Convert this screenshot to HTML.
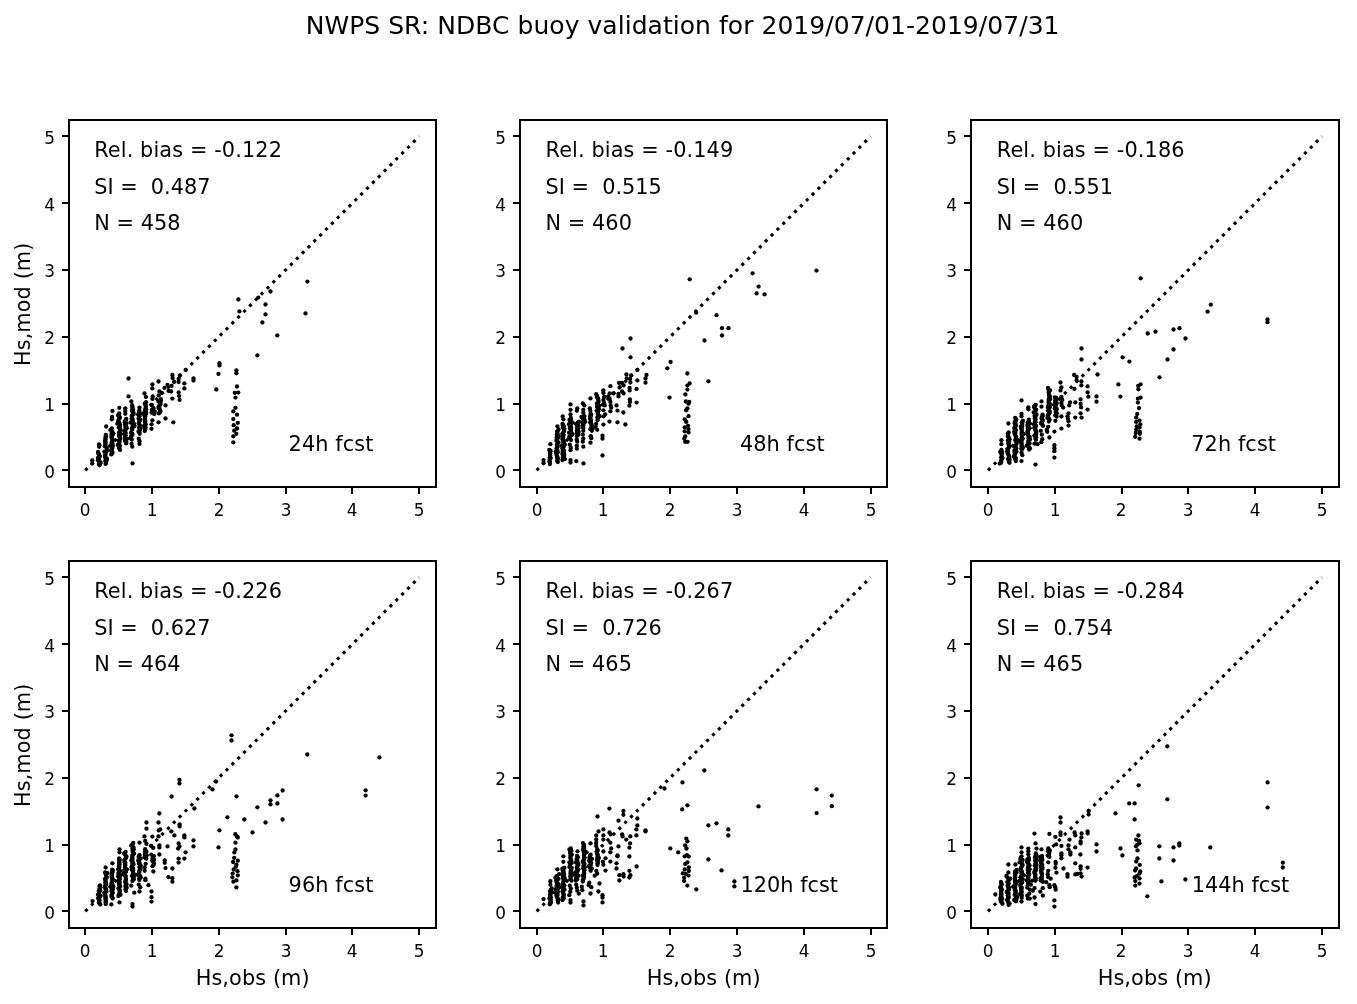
<!DOCTYPE html>
<html lang="en"><head><meta charset="utf-8"><title>NWPS SR: NDBC buoy validation</title>
<style>html,body{margin:0;padding:0;background:#fff}body{width:1357px;height:1004px;overflow:hidden}svg{display:block;will-change:transform}text{font-family:"DejaVu Sans","Liberation Sans",sans-serif;fill:#000}.t{font-size:20.83px}.k{font-size:16.9px}.sp{fill:#000;shape-rendering:crispEdges}</style></head><body>
<svg width="1357" height="1004" viewBox="0 0 1357 1004">
<rect width="1357" height="1004" fill="#fff"/>
<text x="305.7" y="34" font-size="25" letter-spacing="0.042">NWPS SR: NDBC buoy validation for 2019/07/01-2019/07/31</text>
<g>
<rect class="sp" x="68" y="119" width="2" height="369"/>
<rect class="sp" x="435" y="119" width="2" height="369"/>
<rect class="sp" x="68" y="119" width="369" height="2"/>
<rect class="sp" x="68" y="486" width="369" height="2"/>
<rect class="sp" x="84" y="488" width="2" height="6"/>
<rect class="sp" x="62" y="469" width="6" height="2"/>
<text class="k" x="85.2" y="516" text-anchor="middle">0</text>
<text class="k" x="54.9" y="478" text-anchor="end">0</text>
<rect class="sp" x="151" y="488" width="2" height="6"/>
<rect class="sp" x="62" y="403" width="6" height="2"/>
<text class="k" x="152.2" y="516" text-anchor="middle">1</text>
<text class="k" x="54.9" y="411" text-anchor="end">1</text>
<rect class="sp" x="218" y="488" width="2" height="6"/>
<rect class="sp" x="62" y="336" width="6" height="2"/>
<text class="k" x="219.2" y="516" text-anchor="middle">2</text>
<text class="k" x="54.9" y="344" text-anchor="end">2</text>
<rect class="sp" x="285" y="488" width="2" height="6"/>
<rect class="sp" x="62" y="269" width="6" height="2"/>
<text class="k" x="286.2" y="516" text-anchor="middle">3</text>
<text class="k" x="54.9" y="277" text-anchor="end">3</text>
<rect class="sp" x="351" y="488" width="2" height="6"/>
<rect class="sp" x="62" y="202" width="6" height="2"/>
<text class="k" x="352.2" y="516" text-anchor="middle">4</text>
<text class="k" x="54.9" y="211" text-anchor="end">4</text>
<rect class="sp" x="418" y="488" width="2" height="6"/>
<rect class="sp" x="62" y="135" width="6" height="2"/>
<text class="k" x="419.2" y="516" text-anchor="middle">5</text>
<text class="k" x="54.9" y="144" text-anchor="end">5</text>
<line x1="85.30" y1="470.30" x2="419.20" y2="136.40" stroke="#000" stroke-width="3.125" stroke-dasharray="3.125 5.156"/>
<text class="t" letter-spacing="0.11" x="94.2" y="157">Rel. bias = -0.122</text>
<text class="t" x="94.2" y="194" xml:space="preserve" style="white-space:pre">SI =  0.487</text>
<text class="t" letter-spacing="0.06" x="94.2" y="230">N = 458</text>
<text class="t" letter-spacing="0.1" x="288.6" y="451">24h fcst</text>
<text class="t" transform="translate(30.0,304.3) rotate(-90)" letter-spacing="0.1" text-anchor="middle">Hs,mod (m)</text>
<g class="d"><circle cx="92.2" cy="460.4" r="2.15"/><circle cx="92.2" cy="463.6" r="2.15"/><circle cx="106.2" cy="426.5" r="2.15"/><circle cx="112.4" cy="411.0" r="2.15"/><circle cx="112.1" cy="416.8" r="2.15"/><circle cx="111.9" cy="419.3" r="2.15"/><circle cx="119.3" cy="407.8" r="2.15"/><circle cx="125.3" cy="408.3" r="2.15"/><circle cx="125.3" cy="411.0" r="2.15"/><circle cx="125.3" cy="413.8" r="2.15"/><circle cx="128.5" cy="378.5" r="2.15"/><circle cx="128.5" cy="396.4" r="2.15"/><circle cx="131.3" cy="401.4" r="2.15"/><circle cx="131.6" cy="443.7" r="2.15"/><circle cx="132.3" cy="446.7" r="2.15"/><circle cx="132.5" cy="463.4" r="2.15"/><circle cx="139.5" cy="407.6" r="2.15"/><circle cx="138.8" cy="438.7" r="2.15"/><circle cx="139.5" cy="441.2" r="2.15"/><circle cx="139.5" cy="443.9" r="2.15"/><circle cx="144.5" cy="393.4" r="2.15"/><circle cx="145.9" cy="396.9" r="2.15"/><circle cx="152.4" cy="384.4" r="2.15"/><circle cx="152.4" cy="388.4" r="2.15"/><circle cx="152.7" cy="396.4" r="2.15"/><circle cx="152.4" cy="398.9" r="2.15"/><circle cx="151.9" cy="404.9" r="2.15"/><circle cx="152.4" cy="420.3" r="2.15"/><circle cx="151.5" cy="424.3" r="2.15"/><circle cx="151.5" cy="428.8" r="2.15"/><circle cx="158.5" cy="381.5" r="2.15"/><circle cx="159.4" cy="391.4" r="2.15"/><circle cx="158.7" cy="395.4" r="2.15"/><circle cx="158.5" cy="422.3" r="2.15"/><circle cx="164.5" cy="387.9" r="2.15"/><circle cx="167.5" cy="384.9" r="2.15"/><circle cx="165.5" cy="405.4" r="2.15"/><circle cx="165.5" cy="418.5" r="2.15"/><circle cx="161.5" cy="392.9" r="2.15"/><circle cx="172.4" cy="375.0" r="2.15"/><circle cx="172.6" cy="378.0" r="2.15"/><circle cx="174.1" cy="382.0" r="2.15"/><circle cx="171.6" cy="385.9" r="2.15"/><circle cx="168.6" cy="390.9" r="2.15"/><circle cx="171.1" cy="391.4" r="2.15"/><circle cx="172.4" cy="398.6" r="2.15"/><circle cx="179.9" cy="375.5" r="2.15"/><circle cx="178.6" cy="379.0" r="2.15"/><circle cx="178.6" cy="382.0" r="2.15"/><circle cx="178.6" cy="392.4" r="2.15"/><circle cx="179.1" cy="396.1" r="2.15"/><circle cx="179.6" cy="399.9" r="2.15"/><circle cx="185.6" cy="370.0" r="2.15"/><circle cx="184.4" cy="383.4" r="2.15"/><circle cx="184.4" cy="388.4" r="2.15"/><circle cx="193.5" cy="378.5" r="2.15"/><circle cx="193.5" cy="380.5" r="2.15"/><circle cx="173.3" cy="422.3" r="2.15"/><circle cx="99.0" cy="444.4" r="2.15"/><circle cx="99.4" cy="445.3" r="2.15"/><circle cx="99.1" cy="446.8" r="2.15"/><circle cx="98.1" cy="451.9" r="2.15"/><circle cx="98.3" cy="453.1" r="2.15"/><circle cx="98.8" cy="454.2" r="2.15"/><circle cx="99.5" cy="455.6" r="2.15"/><circle cx="99.8" cy="456.6" r="2.15"/><circle cx="98.0" cy="457.9" r="2.15"/><circle cx="99.0" cy="459.7" r="2.15"/><circle cx="97.9" cy="460.3" r="2.15"/><circle cx="100.5" cy="462.1" r="2.15"/><circle cx="100.4" cy="463.2" r="2.15"/><circle cx="98.9" cy="464.0" r="2.15"/><circle cx="99.6" cy="465.3" r="2.15"/><circle cx="105.8" cy="435.0" r="2.15"/><circle cx="106.0" cy="436.4" r="2.15"/><circle cx="105.5" cy="437.3" r="2.15"/><circle cx="105.5" cy="439.3" r="2.15"/><circle cx="105.1" cy="440.5" r="2.15"/><circle cx="105.3" cy="441.5" r="2.15"/><circle cx="105.3" cy="442.3" r="2.15"/><circle cx="105.5" cy="443.9" r="2.15"/><circle cx="105.3" cy="444.8" r="2.15"/><circle cx="104.8" cy="446.3" r="2.15"/><circle cx="106.6" cy="447.3" r="2.15"/><circle cx="106.7" cy="449.1" r="2.15"/><circle cx="107.8" cy="450.3" r="2.15"/><circle cx="105.9" cy="451.6" r="2.15"/><circle cx="105.5" cy="452.2" r="2.15"/><circle cx="105.5" cy="454.0" r="2.15"/><circle cx="105.2" cy="455.2" r="2.15"/><circle cx="105.1" cy="456.4" r="2.15"/><circle cx="105.2" cy="457.5" r="2.15"/><circle cx="106.8" cy="458.5" r="2.15"/><circle cx="106.9" cy="460.1" r="2.15"/><circle cx="105.3" cy="460.9" r="2.15"/><circle cx="106.1" cy="462.7" r="2.15"/><circle cx="105.6" cy="463.9" r="2.15"/><circle cx="111.8" cy="428.3" r="2.15"/><circle cx="110.4" cy="429.9" r="2.15"/><circle cx="112.1" cy="431.1" r="2.15"/><circle cx="112.0" cy="432.3" r="2.15"/><circle cx="113.4" cy="433.4" r="2.15"/><circle cx="111.4" cy="434.7" r="2.15"/><circle cx="112.3" cy="435.4" r="2.15"/><circle cx="111.4" cy="436.9" r="2.15"/><circle cx="112.2" cy="438.3" r="2.15"/><circle cx="112.0" cy="439.4" r="2.15"/><circle cx="112.8" cy="440.8" r="2.15"/><circle cx="111.8" cy="442.3" r="2.15"/><circle cx="112.4" cy="443.6" r="2.15"/><circle cx="111.3" cy="444.9" r="2.15"/><circle cx="112.8" cy="445.7" r="2.15"/><circle cx="112.5" cy="447.0" r="2.15"/><circle cx="112.1" cy="448.3" r="2.15"/><circle cx="111.8" cy="449.6" r="2.15"/><circle cx="111.5" cy="451.2" r="2.15"/><circle cx="112.6" cy="452.4" r="2.15"/><circle cx="112.0" cy="453.6" r="2.15"/><circle cx="111.3" cy="454.4" r="2.15"/><circle cx="119.3" cy="413.4" r="2.15"/><circle cx="118.1" cy="415.2" r="2.15"/><circle cx="119.0" cy="416.3" r="2.15"/><circle cx="119.8" cy="417.3" r="2.15"/><circle cx="119.5" cy="418.6" r="2.15"/><circle cx="118.5" cy="420.1" r="2.15"/><circle cx="118.2" cy="421.6" r="2.15"/><circle cx="119.3" cy="422.8" r="2.15"/><circle cx="117.4" cy="423.7" r="2.15"/><circle cx="120.0" cy="425.0" r="2.15"/><circle cx="120.0" cy="425.9" r="2.15"/><circle cx="118.8" cy="427.6" r="2.15"/><circle cx="120.1" cy="429.0" r="2.15"/><circle cx="120.6" cy="430.2" r="2.15"/><circle cx="120.0" cy="431.0" r="2.15"/><circle cx="119.3" cy="432.2" r="2.15"/><circle cx="119.4" cy="433.7" r="2.15"/><circle cx="119.1" cy="434.7" r="2.15"/><circle cx="119.0" cy="436.1" r="2.15"/><circle cx="119.6" cy="437.0" r="2.15"/><circle cx="120.3" cy="438.5" r="2.15"/><circle cx="119.3" cy="440.2" r="2.15"/><circle cx="119.3" cy="441.1" r="2.15"/><circle cx="119.6" cy="442.1" r="2.15"/><circle cx="119.0" cy="443.5" r="2.15"/><circle cx="117.8" cy="445.1" r="2.15"/><circle cx="120.0" cy="445.8" r="2.15"/><circle cx="119.3" cy="447.4" r="2.15"/><circle cx="118.9" cy="448.1" r="2.15"/><circle cx="120.0" cy="449.9" r="2.15"/><circle cx="126.3" cy="418.9" r="2.15"/><circle cx="125.8" cy="419.7" r="2.15"/><circle cx="125.2" cy="421.2" r="2.15"/><circle cx="124.8" cy="422.2" r="2.15"/><circle cx="126.5" cy="423.4" r="2.15"/><circle cx="125.0" cy="424.8" r="2.15"/><circle cx="126.1" cy="426.3" r="2.15"/><circle cx="125.4" cy="427.3" r="2.15"/><circle cx="126.0" cy="428.4" r="2.15"/><circle cx="125.3" cy="430.1" r="2.15"/><circle cx="124.8" cy="431.2" r="2.15"/><circle cx="125.7" cy="432.8" r="2.15"/><circle cx="125.1" cy="433.8" r="2.15"/><circle cx="125.6" cy="435.3" r="2.15"/><circle cx="125.1" cy="436.0" r="2.15"/><circle cx="125.2" cy="437.6" r="2.15"/><circle cx="127.0" cy="438.7" r="2.15"/><circle cx="125.0" cy="439.9" r="2.15"/><circle cx="125.1" cy="441.1" r="2.15"/><circle cx="126.4" cy="442.1" r="2.15"/><circle cx="126.1" cy="443.4" r="2.15"/><circle cx="132.1" cy="405.2" r="2.15"/><circle cx="132.4" cy="406.8" r="2.15"/><circle cx="132.5" cy="407.9" r="2.15"/><circle cx="133.0" cy="409.4" r="2.15"/><circle cx="132.0" cy="410.5" r="2.15"/><circle cx="132.2" cy="411.3" r="2.15"/><circle cx="133.3" cy="412.6" r="2.15"/><circle cx="133.7" cy="413.9" r="2.15"/><circle cx="132.4" cy="415.2" r="2.15"/><circle cx="131.7" cy="416.0" r="2.15"/><circle cx="132.3" cy="417.9" r="2.15"/><circle cx="131.6" cy="418.7" r="2.15"/><circle cx="132.6" cy="419.7" r="2.15"/><circle cx="133.0" cy="421.6" r="2.15"/><circle cx="130.7" cy="422.5" r="2.15"/><circle cx="134.0" cy="423.9" r="2.15"/><circle cx="132.7" cy="425.1" r="2.15"/><circle cx="134.6" cy="426.1" r="2.15"/><circle cx="132.3" cy="427.5" r="2.15"/><circle cx="132.4" cy="428.8" r="2.15"/><circle cx="132.1" cy="429.7" r="2.15"/><circle cx="130.9" cy="432.9" r="2.15"/><circle cx="132.4" cy="433.9" r="2.15"/><circle cx="132.2" cy="434.9" r="2.15"/><circle cx="131.2" cy="436.3" r="2.15"/><circle cx="130.8" cy="437.7" r="2.15"/><circle cx="131.1" cy="438.8" r="2.15"/><circle cx="131.7" cy="439.5" r="2.15"/><circle cx="139.3" cy="410.5" r="2.15"/><circle cx="139.2" cy="412.2" r="2.15"/><circle cx="140.9" cy="413.6" r="2.15"/><circle cx="138.1" cy="414.4" r="2.15"/><circle cx="139.2" cy="416.2" r="2.15"/><circle cx="139.3" cy="417.1" r="2.15"/><circle cx="138.6" cy="418.5" r="2.15"/><circle cx="140.3" cy="420.0" r="2.15"/><circle cx="139.5" cy="421.0" r="2.15"/><circle cx="138.9" cy="422.7" r="2.15"/><circle cx="138.8" cy="423.3" r="2.15"/><circle cx="139.5" cy="424.6" r="2.15"/><circle cx="139.9" cy="425.8" r="2.15"/><circle cx="139.1" cy="427.8" r="2.15"/><circle cx="140.3" cy="428.3" r="2.15"/><circle cx="140.0" cy="429.9" r="2.15"/><circle cx="138.5" cy="431.5" r="2.15"/><circle cx="139.2" cy="432.2" r="2.15"/><circle cx="139.7" cy="433.8" r="2.15"/><circle cx="146.0" cy="402.2" r="2.15"/><circle cx="144.9" cy="403.5" r="2.15"/><circle cx="145.4" cy="404.6" r="2.15"/><circle cx="145.6" cy="405.5" r="2.15"/><circle cx="145.9" cy="406.9" r="2.15"/><circle cx="145.4" cy="408.4" r="2.15"/><circle cx="146.2" cy="409.4" r="2.15"/><circle cx="145.1" cy="410.4" r="2.15"/><circle cx="144.4" cy="412.3" r="2.15"/><circle cx="146.3" cy="413.0" r="2.15"/><circle cx="145.8" cy="414.1" r="2.15"/><circle cx="144.4" cy="415.3" r="2.15"/><circle cx="145.3" cy="416.7" r="2.15"/><circle cx="144.9" cy="418.4" r="2.15"/><circle cx="144.9" cy="419.8" r="2.15"/><circle cx="145.3" cy="421.0" r="2.15"/><circle cx="144.9" cy="421.9" r="2.15"/><circle cx="145.2" cy="423.1" r="2.15"/><circle cx="145.7" cy="424.6" r="2.15"/><circle cx="143.9" cy="425.9" r="2.15"/><circle cx="145.5" cy="427.3" r="2.15"/><circle cx="144.7" cy="428.5" r="2.15"/><circle cx="145.4" cy="429.1" r="2.15"/><circle cx="144.8" cy="431.1" r="2.15"/><circle cx="153.5" cy="408.1" r="2.15"/><circle cx="153.3" cy="408.7" r="2.15"/><circle cx="151.8" cy="410.0" r="2.15"/><circle cx="154.8" cy="411.7" r="2.15"/><circle cx="151.6" cy="412.7" r="2.15"/><circle cx="154.2" cy="414.0" r="2.15"/><circle cx="160.8" cy="399.1" r="2.15"/><circle cx="160.9" cy="400.3" r="2.15"/><circle cx="158.5" cy="401.5" r="2.15"/><circle cx="160.6" cy="402.7" r="2.15"/><circle cx="160.0" cy="404.2" r="2.15"/><circle cx="160.2" cy="404.8" r="2.15"/><circle cx="158.9" cy="406.3" r="2.15"/><circle cx="158.5" cy="408.0" r="2.15"/><circle cx="159.4" cy="408.5" r="2.15"/><circle cx="160.0" cy="410.4" r="2.15"/><circle cx="160.5" cy="411.1" r="2.15"/><circle cx="159.9" cy="412.6" r="2.15"/><circle cx="158.8" cy="413.4" r="2.15"/><circle cx="307.4" cy="281.6" r="2.15"/><circle cx="270.5" cy="291.5" r="2.15"/><circle cx="258.3" cy="297.6" r="2.15"/><circle cx="238.4" cy="299.5" r="2.15"/><circle cx="265.5" cy="304.5" r="2.15"/><circle cx="239.4" cy="311.4" r="2.15"/><circle cx="265.5" cy="314.4" r="2.15"/><circle cx="305.5" cy="313.4" r="2.15"/><circle cx="262.4" cy="322.5" r="2.15"/><circle cx="277.3" cy="335.4" r="2.15"/><circle cx="257.4" cy="355.4" r="2.15"/><circle cx="219.5" cy="363.2" r="2.15"/><circle cx="219.5" cy="365.4" r="2.15"/><circle cx="218.5" cy="373.9" r="2.15"/><circle cx="236.4" cy="370.3" r="2.15"/><circle cx="236.4" cy="373.3" r="2.15"/><circle cx="216.3" cy="389.5" r="2.15"/><circle cx="237.0" cy="386.5" r="2.15"/><circle cx="234.8" cy="392.8" r="2.15"/><circle cx="238.3" cy="392.6" r="2.15"/><circle cx="235.5" cy="397.6" r="2.15"/><circle cx="235.5" cy="407.8" r="2.15"/><circle cx="233.3" cy="411.4" r="2.15"/><circle cx="237.0" cy="414.7" r="2.15"/><circle cx="233.3" cy="419.1" r="2.15"/><circle cx="237.8" cy="422.8" r="2.15"/><circle cx="233.7" cy="425.2" r="2.15"/><circle cx="237.0" cy="428.5" r="2.15"/><circle cx="234.2" cy="430.7" r="2.15"/><circle cx="236.4" cy="433.8" r="2.15"/><circle cx="233.3" cy="436.3" r="2.15"/><circle cx="233.3" cy="442.3" r="2.15"/></g>
</g>
<g>
<rect class="sp" x="519" y="119" width="2" height="369"/>
<rect class="sp" x="886" y="119" width="2" height="369"/>
<rect class="sp" x="519" y="119" width="369" height="2"/>
<rect class="sp" x="519" y="486" width="369" height="2"/>
<rect class="sp" x="536" y="488" width="2" height="6"/>
<rect class="sp" x="513" y="469" width="6" height="2"/>
<text class="k" x="537.2" y="516" text-anchor="middle">0</text>
<text class="k" x="505.9" y="478" text-anchor="end">0</text>
<rect class="sp" x="602" y="488" width="2" height="6"/>
<rect class="sp" x="513" y="403" width="6" height="2"/>
<text class="k" x="603.2" y="516" text-anchor="middle">1</text>
<text class="k" x="505.9" y="411" text-anchor="end">1</text>
<rect class="sp" x="669" y="488" width="2" height="6"/>
<rect class="sp" x="513" y="336" width="6" height="2"/>
<text class="k" x="670.2" y="516" text-anchor="middle">2</text>
<text class="k" x="505.9" y="344" text-anchor="end">2</text>
<rect class="sp" x="736" y="488" width="2" height="6"/>
<rect class="sp" x="513" y="269" width="6" height="2"/>
<text class="k" x="737.2" y="516" text-anchor="middle">3</text>
<text class="k" x="505.9" y="277" text-anchor="end">3</text>
<rect class="sp" x="803" y="488" width="2" height="6"/>
<rect class="sp" x="513" y="202" width="6" height="2"/>
<text class="k" x="804.2" y="516" text-anchor="middle">4</text>
<text class="k" x="505.9" y="211" text-anchor="end">4</text>
<rect class="sp" x="870" y="488" width="2" height="6"/>
<rect class="sp" x="513" y="135" width="6" height="2"/>
<text class="k" x="871.2" y="516" text-anchor="middle">5</text>
<text class="k" x="505.9" y="144" text-anchor="end">5</text>
<line x1="536.67" y1="470.30" x2="870.57" y2="136.40" stroke="#000" stroke-width="3.125" stroke-dasharray="3.125 5.156"/>
<text class="t" letter-spacing="0.11" x="545.5" y="157">Rel. bias = -0.149</text>
<text class="t" x="545.5" y="194" xml:space="preserve" style="white-space:pre">SI =  0.515</text>
<text class="t" letter-spacing="0.06" x="545.5" y="230">N = 460</text>
<text class="t" letter-spacing="0.1" x="739.9" y="451">48h fcst</text>
<g class="d"><circle cx="543.5" cy="460.1" r="2.15"/><circle cx="543.5" cy="463.1" r="2.15"/><circle cx="550.4" cy="444.2" r="2.15"/><circle cx="557.4" cy="426.3" r="2.15"/><circle cx="562.7" cy="416.3" r="2.15"/><circle cx="563.4" cy="419.3" r="2.15"/><circle cx="570.5" cy="404.4" r="2.15"/><circle cx="570.5" cy="409.8" r="2.15"/><circle cx="570.5" cy="414.3" r="2.15"/><circle cx="569.8" cy="444.7" r="2.15"/><circle cx="570.8" cy="447.7" r="2.15"/><circle cx="570.5" cy="450.2" r="2.15"/><circle cx="570.5" cy="460.1" r="2.15"/><circle cx="570.5" cy="462.6" r="2.15"/><circle cx="577.3" cy="408.3" r="2.15"/><circle cx="576.8" cy="410.8" r="2.15"/><circle cx="576.8" cy="439.7" r="2.15"/><circle cx="577.3" cy="441.7" r="2.15"/><circle cx="576.8" cy="445.7" r="2.15"/><circle cx="576.8" cy="448.7" r="2.15"/><circle cx="576.3" cy="461.1" r="2.15"/><circle cx="582.8" cy="403.4" r="2.15"/><circle cx="584.3" cy="405.4" r="2.15"/><circle cx="583.3" cy="409.8" r="2.15"/><circle cx="583.3" cy="412.8" r="2.15"/><circle cx="583.3" cy="430.8" r="2.15"/><circle cx="582.8" cy="434.7" r="2.15"/><circle cx="583.3" cy="438.7" r="2.15"/><circle cx="582.8" cy="441.7" r="2.15"/><circle cx="583.3" cy="446.7" r="2.15"/><circle cx="583.5" cy="463.4" r="2.15"/><circle cx="590.5" cy="398.4" r="2.15"/><circle cx="589.8" cy="408.3" r="2.15"/><circle cx="590.3" cy="410.8" r="2.15"/><circle cx="590.8" cy="436.2" r="2.15"/><circle cx="591.3" cy="438.2" r="2.15"/><circle cx="590.5" cy="442.7" r="2.15"/><circle cx="596.2" cy="423.8" r="2.15"/><circle cx="595.7" cy="426.8" r="2.15"/><circle cx="597.2" cy="429.8" r="2.15"/><circle cx="603.4" cy="390.4" r="2.15"/><circle cx="603.4" cy="392.9" r="2.15"/><circle cx="604.2" cy="396.9" r="2.15"/><circle cx="603.4" cy="399.9" r="2.15"/><circle cx="604.2" cy="402.9" r="2.15"/><circle cx="604.7" cy="405.4" r="2.15"/><circle cx="603.4" cy="410.3" r="2.15"/><circle cx="605.2" cy="414.3" r="2.15"/><circle cx="603.7" cy="416.3" r="2.15"/><circle cx="603.4" cy="424.6" r="2.15"/><circle cx="602.5" cy="435.7" r="2.15"/><circle cx="602.5" cy="438.7" r="2.15"/><circle cx="602.5" cy="455.5" r="2.15"/><circle cx="610.4" cy="386.2" r="2.15"/><circle cx="609.7" cy="393.4" r="2.15"/><circle cx="608.2" cy="396.4" r="2.15"/><circle cx="609.7" cy="398.9" r="2.15"/><circle cx="610.4" cy="401.9" r="2.15"/><circle cx="610.7" cy="405.4" r="2.15"/><circle cx="611.2" cy="407.8" r="2.15"/><circle cx="610.4" cy="411.3" r="2.15"/><circle cx="609.5" cy="421.6" r="2.15"/><circle cx="613.4" cy="393.4" r="2.15"/><circle cx="618.5" cy="393.9" r="2.15"/><circle cx="618.5" cy="396.4" r="2.15"/><circle cx="616.5" cy="405.4" r="2.15"/><circle cx="617.5" cy="410.6" r="2.15"/><circle cx="617.5" cy="422.3" r="2.15"/><circle cx="619.1" cy="382.9" r="2.15"/><circle cx="622.1" cy="382.9" r="2.15"/><circle cx="619.6" cy="387.4" r="2.15"/><circle cx="623.6" cy="385.4" r="2.15"/><circle cx="622.1" cy="391.4" r="2.15"/><circle cx="623.6" cy="393.4" r="2.15"/><circle cx="623.4" cy="412.5" r="2.15"/><circle cx="626.4" cy="374.5" r="2.15"/><circle cx="626.6" cy="378.5" r="2.15"/><circle cx="631.1" cy="375.5" r="2.15"/><circle cx="630.1" cy="379.0" r="2.15"/><circle cx="630.4" cy="382.5" r="2.15"/><circle cx="629.6" cy="387.9" r="2.15"/><circle cx="629.6" cy="390.4" r="2.15"/><circle cx="629.9" cy="399.4" r="2.15"/><circle cx="629.9" cy="401.9" r="2.15"/><circle cx="629.4" cy="405.7" r="2.15"/><circle cx="637.4" cy="370.0" r="2.15"/><circle cx="637.4" cy="380.5" r="2.15"/><circle cx="636.6" cy="388.9" r="2.15"/><circle cx="636.6" cy="402.6" r="2.15"/><circle cx="646.5" cy="375.0" r="2.15"/><circle cx="645.5" cy="378.5" r="2.15"/><circle cx="645.5" cy="382.7" r="2.15"/><circle cx="625.4" cy="424.5" r="2.15"/><circle cx="549.3" cy="450.0" r="2.15"/><circle cx="550.5" cy="450.7" r="2.15"/><circle cx="550.4" cy="451.8" r="2.15"/><circle cx="550.1" cy="453.3" r="2.15"/><circle cx="550.1" cy="455.1" r="2.15"/><circle cx="550.1" cy="455.7" r="2.15"/><circle cx="550.4" cy="457.6" r="2.15"/><circle cx="550.5" cy="458.4" r="2.15"/><circle cx="549.6" cy="459.7" r="2.15"/><circle cx="549.5" cy="461.3" r="2.15"/><circle cx="549.7" cy="462.1" r="2.15"/><circle cx="549.9" cy="464.0" r="2.15"/><circle cx="558.5" cy="429.5" r="2.15"/><circle cx="557.2" cy="431.3" r="2.15"/><circle cx="557.3" cy="432.0" r="2.15"/><circle cx="557.4" cy="433.3" r="2.15"/><circle cx="556.8" cy="434.9" r="2.15"/><circle cx="558.6" cy="436.2" r="2.15"/><circle cx="556.7" cy="437.4" r="2.15"/><circle cx="557.7" cy="438.2" r="2.15"/><circle cx="556.8" cy="439.7" r="2.15"/><circle cx="556.4" cy="440.7" r="2.15"/><circle cx="558.5" cy="442.4" r="2.15"/><circle cx="557.6" cy="443.3" r="2.15"/><circle cx="556.8" cy="444.9" r="2.15"/><circle cx="557.5" cy="446.0" r="2.15"/><circle cx="557.3" cy="447.5" r="2.15"/><circle cx="556.5" cy="448.5" r="2.15"/><circle cx="557.3" cy="450.0" r="2.15"/><circle cx="556.4" cy="451.1" r="2.15"/><circle cx="557.8" cy="452.2" r="2.15"/><circle cx="556.6" cy="453.3" r="2.15"/><circle cx="556.5" cy="455.0" r="2.15"/><circle cx="557.2" cy="456.2" r="2.15"/><circle cx="557.1" cy="457.3" r="2.15"/><circle cx="557.9" cy="458.6" r="2.15"/><circle cx="557.4" cy="459.5" r="2.15"/><circle cx="557.3" cy="461.1" r="2.15"/><circle cx="557.8" cy="462.1" r="2.15"/><circle cx="562.5" cy="423.8" r="2.15"/><circle cx="562.9" cy="425.2" r="2.15"/><circle cx="563.9" cy="426.4" r="2.15"/><circle cx="562.9" cy="427.5" r="2.15"/><circle cx="564.4" cy="428.9" r="2.15"/><circle cx="563.9" cy="430.1" r="2.15"/><circle cx="563.9" cy="431.2" r="2.15"/><circle cx="563.3" cy="432.8" r="2.15"/><circle cx="562.3" cy="433.8" r="2.15"/><circle cx="563.6" cy="435.1" r="2.15"/><circle cx="562.9" cy="436.2" r="2.15"/><circle cx="563.0" cy="437.2" r="2.15"/><circle cx="562.3" cy="439.0" r="2.15"/><circle cx="563.3" cy="440.1" r="2.15"/><circle cx="563.3" cy="441.2" r="2.15"/><circle cx="563.9" cy="442.4" r="2.15"/><circle cx="563.4" cy="443.8" r="2.15"/><circle cx="564.8" cy="444.7" r="2.15"/><circle cx="563.2" cy="446.6" r="2.15"/><circle cx="563.4" cy="447.2" r="2.15"/><circle cx="562.4" cy="448.5" r="2.15"/><circle cx="563.8" cy="450.5" r="2.15"/><circle cx="562.7" cy="451.5" r="2.15"/><circle cx="563.9" cy="452.7" r="2.15"/><circle cx="562.4" cy="453.9" r="2.15"/><circle cx="564.3" cy="454.7" r="2.15"/><circle cx="564.0" cy="456.6" r="2.15"/><circle cx="562.8" cy="457.3" r="2.15"/><circle cx="564.9" cy="459.1" r="2.15"/><circle cx="562.4" cy="460.1" r="2.15"/><circle cx="570.8" cy="417.9" r="2.15"/><circle cx="571.0" cy="419.4" r="2.15"/><circle cx="569.5" cy="420.0" r="2.15"/><circle cx="570.6" cy="421.8" r="2.15"/><circle cx="572.5" cy="422.7" r="2.15"/><circle cx="569.0" cy="424.2" r="2.15"/><circle cx="570.6" cy="425.5" r="2.15"/><circle cx="569.8" cy="426.7" r="2.15"/><circle cx="571.1" cy="427.7" r="2.15"/><circle cx="570.0" cy="428.7" r="2.15"/><circle cx="571.1" cy="429.8" r="2.15"/><circle cx="571.0" cy="431.5" r="2.15"/><circle cx="569.1" cy="432.7" r="2.15"/><circle cx="571.6" cy="433.4" r="2.15"/><circle cx="572.0" cy="434.9" r="2.15"/><circle cx="569.5" cy="436.4" r="2.15"/><circle cx="569.4" cy="437.4" r="2.15"/><circle cx="569.9" cy="438.4" r="2.15"/><circle cx="571.0" cy="440.1" r="2.15"/><circle cx="578.9" cy="421.6" r="2.15"/><circle cx="577.8" cy="422.7" r="2.15"/><circle cx="576.1" cy="424.0" r="2.15"/><circle cx="578.5" cy="425.8" r="2.15"/><circle cx="577.1" cy="427.2" r="2.15"/><circle cx="578.1" cy="427.9" r="2.15"/><circle cx="577.4" cy="429.1" r="2.15"/><circle cx="576.8" cy="430.8" r="2.15"/><circle cx="578.6" cy="431.9" r="2.15"/><circle cx="576.9" cy="433.1" r="2.15"/><circle cx="578.4" cy="434.8" r="2.15"/><circle cx="576.8" cy="436.1" r="2.15"/><circle cx="584.4" cy="416.2" r="2.15"/><circle cx="581.5" cy="417.0" r="2.15"/><circle cx="582.8" cy="418.5" r="2.15"/><circle cx="584.3" cy="419.2" r="2.15"/><circle cx="583.6" cy="420.6" r="2.15"/><circle cx="585.2" cy="421.8" r="2.15"/><circle cx="582.5" cy="422.9" r="2.15"/><circle cx="583.4" cy="424.1" r="2.15"/><circle cx="583.2" cy="425.2" r="2.15"/><circle cx="582.8" cy="426.7" r="2.15"/><circle cx="583.3" cy="427.9" r="2.15"/><circle cx="590.6" cy="413.8" r="2.15"/><circle cx="591.2" cy="414.8" r="2.15"/><circle cx="590.2" cy="416.2" r="2.15"/><circle cx="590.6" cy="417.1" r="2.15"/><circle cx="590.1" cy="418.4" r="2.15"/><circle cx="590.7" cy="419.8" r="2.15"/><circle cx="590.9" cy="421.0" r="2.15"/><circle cx="590.2" cy="422.3" r="2.15"/><circle cx="591.4" cy="423.9" r="2.15"/><circle cx="591.5" cy="424.9" r="2.15"/><circle cx="591.7" cy="426.0" r="2.15"/><circle cx="591.6" cy="427.2" r="2.15"/><circle cx="592.7" cy="428.6" r="2.15"/><circle cx="590.4" cy="429.3" r="2.15"/><circle cx="591.9" cy="430.8" r="2.15"/><circle cx="596.2" cy="394.2" r="2.15"/><circle cx="597.0" cy="395.9" r="2.15"/><circle cx="597.0" cy="397.3" r="2.15"/><circle cx="598.1" cy="398.5" r="2.15"/><circle cx="598.1" cy="399.1" r="2.15"/><circle cx="598.5" cy="400.9" r="2.15"/><circle cx="598.4" cy="402.1" r="2.15"/><circle cx="596.8" cy="403.7" r="2.15"/><circle cx="597.9" cy="404.5" r="2.15"/><circle cx="599.0" cy="406.1" r="2.15"/><circle cx="596.9" cy="406.9" r="2.15"/><circle cx="598.7" cy="408.7" r="2.15"/><circle cx="598.6" cy="409.6" r="2.15"/><circle cx="598.2" cy="411.2" r="2.15"/><circle cx="597.5" cy="411.8" r="2.15"/><circle cx="597.9" cy="413.8" r="2.15"/><circle cx="598.0" cy="414.3" r="2.15"/><circle cx="599.7" cy="416.2" r="2.15"/><circle cx="597.4" cy="417.3" r="2.15"/><circle cx="598.1" cy="418.1" r="2.15"/><circle cx="597.5" cy="420.2" r="2.15"/><circle cx="670.6" cy="362.0" r="2.15"/><circle cx="667.3" cy="368.3" r="2.15"/><circle cx="669.5" cy="397.6" r="2.15"/><circle cx="708.4" cy="381.3" r="2.15"/><circle cx="687.4" cy="373.5" r="2.15"/><circle cx="689.6" cy="383.4" r="2.15"/><circle cx="687.4" cy="385.6" r="2.15"/><circle cx="687.4" cy="389.6" r="2.15"/><circle cx="685.4" cy="394.5" r="2.15"/><circle cx="685.8" cy="401.5" r="2.15"/><circle cx="689.3" cy="401.8" r="2.15"/><circle cx="688.5" cy="403.7" r="2.15"/><circle cx="687.4" cy="408.3" r="2.15"/><circle cx="686.1" cy="410.3" r="2.15"/><circle cx="688.5" cy="416.2" r="2.15"/><circle cx="684.7" cy="419.5" r="2.15"/><circle cx="686.3" cy="421.9" r="2.15"/><circle cx="688.0" cy="425.8" r="2.15"/><circle cx="684.7" cy="427.4" r="2.15"/><circle cx="688.5" cy="429.1" r="2.15"/><circle cx="684.7" cy="431.3" r="2.15"/><circle cx="688.5" cy="432.4" r="2.15"/><circle cx="685.2" cy="436.3" r="2.15"/><circle cx="684.3" cy="438.7" r="2.15"/><circle cx="685.2" cy="441.8" r="2.15"/><circle cx="687.6" cy="441.8" r="2.15"/><circle cx="816.5" cy="270.6" r="2.15"/><circle cx="752.6" cy="273.3" r="2.15"/><circle cx="758.6" cy="286.6" r="2.15"/><circle cx="756.6" cy="293.4" r="2.15"/><circle cx="764.6" cy="294.4" r="2.15"/><circle cx="689.7" cy="279.3" r="2.15"/><circle cx="696.2" cy="312.7" r="2.15"/><circle cx="716.5" cy="315.2" r="2.15"/><circle cx="722.0" cy="328.2" r="2.15"/><circle cx="728.5" cy="328.2" r="2.15"/><circle cx="722.0" cy="335.5" r="2.15"/><circle cx="704.5" cy="340.5" r="2.15"/><circle cx="630.5" cy="338.5" r="2.15"/><circle cx="622.5" cy="348.5" r="2.15"/><circle cx="630.5" cy="357.3" r="2.15"/></g>
</g>
<g>
<rect class="sp" x="970" y="119" width="2" height="369"/>
<rect class="sp" x="1338" y="119" width="2" height="369"/>
<rect class="sp" x="970" y="119" width="370" height="2"/>
<rect class="sp" x="970" y="486" width="370" height="2"/>
<rect class="sp" x="987" y="488" width="2" height="6"/>
<rect class="sp" x="964" y="469" width="6" height="2"/>
<text class="k" x="988.2" y="516" text-anchor="middle">0</text>
<text class="k" x="956.9" y="478" text-anchor="end">0</text>
<rect class="sp" x="1054" y="488" width="2" height="6"/>
<rect class="sp" x="964" y="403" width="6" height="2"/>
<text class="k" x="1055.2" y="516" text-anchor="middle">1</text>
<text class="k" x="956.9" y="411" text-anchor="end">1</text>
<rect class="sp" x="1121" y="488" width="2" height="6"/>
<rect class="sp" x="964" y="336" width="6" height="2"/>
<text class="k" x="1121.2" y="516" text-anchor="middle">2</text>
<text class="k" x="956.9" y="344" text-anchor="end">2</text>
<rect class="sp" x="1187" y="488" width="2" height="6"/>
<rect class="sp" x="964" y="269" width="6" height="2"/>
<text class="k" x="1188.2" y="516" text-anchor="middle">3</text>
<text class="k" x="956.9" y="277" text-anchor="end">3</text>
<rect class="sp" x="1254" y="488" width="2" height="6"/>
<rect class="sp" x="964" y="202" width="6" height="2"/>
<text class="k" x="1255.2" y="516" text-anchor="middle">4</text>
<text class="k" x="956.9" y="211" text-anchor="end">4</text>
<rect class="sp" x="1321" y="488" width="2" height="6"/>
<rect class="sp" x="964" y="135" width="6" height="2"/>
<text class="k" x="1322.2" y="516" text-anchor="middle">5</text>
<text class="k" x="956.9" y="144" text-anchor="end">5</text>
<line x1="988.05" y1="470.30" x2="1321.95" y2="136.40" stroke="#000" stroke-width="3.125" stroke-dasharray="3.125 5.156"/>
<text class="t" letter-spacing="0.11" x="996.8" y="157">Rel. bias = -0.186</text>
<text class="t" x="996.8" y="194" xml:space="preserve" style="white-space:pre">SI =  0.551</text>
<text class="t" letter-spacing="0.06" x="996.8" y="230">N = 460</text>
<text class="t" letter-spacing="0.1" x="1191.2" y="451">72h fcst</text>
<g class="d"><circle cx="1001.4" cy="440.2" r="2.15"/><circle cx="1001.4" cy="444.2" r="2.15"/><circle cx="1008.4" cy="423.5" r="2.15"/><circle cx="1021.5" cy="400.4" r="2.15"/><circle cx="1021.5" cy="413.8" r="2.15"/><circle cx="1021.5" cy="416.3" r="2.15"/><circle cx="1021.5" cy="452.7" r="2.15"/><circle cx="1022.3" cy="455.2" r="2.15"/><circle cx="1021.5" cy="461.1" r="2.15"/><circle cx="1028.3" cy="407.4" r="2.15"/><circle cx="1028.3" cy="409.3" r="2.15"/><circle cx="1034.5" cy="443.7" r="2.15"/><circle cx="1037.5" cy="444.2" r="2.15"/><circle cx="1035.5" cy="464.6" r="2.15"/><circle cx="1041.5" cy="401.4" r="2.15"/><circle cx="1041.5" cy="406.7" r="2.15"/><circle cx="1040.8" cy="430.8" r="2.15"/><circle cx="1041.8" cy="434.7" r="2.15"/><circle cx="1042.3" cy="439.2" r="2.15"/><circle cx="1041.3" cy="442.2" r="2.15"/><circle cx="1048.2" cy="426.8" r="2.15"/><circle cx="1046.7" cy="429.8" r="2.15"/><circle cx="1047.2" cy="431.8" r="2.15"/><circle cx="1049.4" cy="437.5" r="2.15"/><circle cx="1055.4" cy="420.8" r="2.15"/><circle cx="1054.4" cy="431.6" r="2.15"/><circle cx="1054.4" cy="445.2" r="2.15"/><circle cx="1054.4" cy="448.2" r="2.15"/><circle cx="1054.4" cy="451.2" r="2.15"/><circle cx="1054.4" cy="457.6" r="2.15"/><circle cx="1060.5" cy="382.5" r="2.15"/><circle cx="1061.4" cy="387.4" r="2.15"/><circle cx="1060.5" cy="390.4" r="2.15"/><circle cx="1061.4" cy="396.9" r="2.15"/><circle cx="1062.2" cy="399.9" r="2.15"/><circle cx="1061.4" cy="402.9" r="2.15"/><circle cx="1061.7" cy="405.4" r="2.15"/><circle cx="1063.2" cy="407.6" r="2.15"/><circle cx="1061.4" cy="416.5" r="2.15"/><circle cx="1061.4" cy="428.6" r="2.15"/><circle cx="1070.1" cy="402.4" r="2.15"/><circle cx="1069.2" cy="405.4" r="2.15"/><circle cx="1068.5" cy="413.3" r="2.15"/><circle cx="1067.5" cy="416.3" r="2.15"/><circle cx="1067.9" cy="418.8" r="2.15"/><circle cx="1068.5" cy="421.3" r="2.15"/><circle cx="1068.5" cy="425.6" r="2.15"/><circle cx="1074.1" cy="375.0" r="2.15"/><circle cx="1076.6" cy="377.0" r="2.15"/><circle cx="1076.6" cy="380.5" r="2.15"/><circle cx="1074.4" cy="388.9" r="2.15"/><circle cx="1075.3" cy="402.4" r="2.15"/><circle cx="1075.3" cy="417.6" r="2.15"/><circle cx="1081.4" cy="381.5" r="2.15"/><circle cx="1081.4" cy="385.4" r="2.15"/><circle cx="1080.6" cy="399.4" r="2.15"/><circle cx="1080.6" cy="403.9" r="2.15"/><circle cx="1081.1" cy="407.4" r="2.15"/><circle cx="1080.6" cy="413.3" r="2.15"/><circle cx="1081.6" cy="417.6" r="2.15"/><circle cx="1087.6" cy="386.4" r="2.15"/><circle cx="1087.6" cy="392.4" r="2.15"/><circle cx="1088.4" cy="396.7" r="2.15"/><circle cx="1087.6" cy="409.6" r="2.15"/><circle cx="1097.5" cy="374.5" r="2.15"/><circle cx="1096.5" cy="396.4" r="2.15"/><circle cx="1096.5" cy="401.7" r="2.15"/><circle cx="1001.4" cy="449.9" r="2.15"/><circle cx="1001.6" cy="451.2" r="2.15"/><circle cx="1000.2" cy="451.9" r="2.15"/><circle cx="1002.0" cy="453.3" r="2.15"/><circle cx="1001.5" cy="454.5" r="2.15"/><circle cx="1001.8" cy="456.4" r="2.15"/><circle cx="1002.2" cy="457.6" r="2.15"/><circle cx="1002.3" cy="458.3" r="2.15"/><circle cx="1001.4" cy="459.7" r="2.15"/><circle cx="1001.2" cy="461.2" r="2.15"/><circle cx="1001.0" cy="462.8" r="2.15"/><circle cx="999.7" cy="463.6" r="2.15"/><circle cx="1008.7" cy="432.5" r="2.15"/><circle cx="1007.8" cy="433.7" r="2.15"/><circle cx="1008.2" cy="435.5" r="2.15"/><circle cx="1007.9" cy="436.3" r="2.15"/><circle cx="1009.0" cy="438.1" r="2.15"/><circle cx="1009.6" cy="439.3" r="2.15"/><circle cx="1008.0" cy="440.2" r="2.15"/><circle cx="1009.1" cy="441.6" r="2.15"/><circle cx="1008.1" cy="443.1" r="2.15"/><circle cx="1008.9" cy="443.9" r="2.15"/><circle cx="1008.7" cy="444.9" r="2.15"/><circle cx="1009.4" cy="446.6" r="2.15"/><circle cx="1008.9" cy="447.5" r="2.15"/><circle cx="1007.3" cy="449.1" r="2.15"/><circle cx="1007.9" cy="450.4" r="2.15"/><circle cx="1008.1" cy="451.1" r="2.15"/><circle cx="1008.0" cy="452.5" r="2.15"/><circle cx="1007.8" cy="453.7" r="2.15"/><circle cx="1008.8" cy="455.5" r="2.15"/><circle cx="1008.9" cy="456.7" r="2.15"/><circle cx="1009.4" cy="458.0" r="2.15"/><circle cx="1007.9" cy="459.1" r="2.15"/><circle cx="1009.6" cy="459.9" r="2.15"/><circle cx="1008.8" cy="461.7" r="2.15"/><circle cx="1009.5" cy="462.8" r="2.15"/><circle cx="1015.2" cy="417.8" r="2.15"/><circle cx="1016.3" cy="419.3" r="2.15"/><circle cx="1015.5" cy="420.4" r="2.15"/><circle cx="1015.6" cy="421.4" r="2.15"/><circle cx="1014.5" cy="423.1" r="2.15"/><circle cx="1015.5" cy="424.3" r="2.15"/><circle cx="1015.9" cy="425.4" r="2.15"/><circle cx="1015.1" cy="426.9" r="2.15"/><circle cx="1014.4" cy="427.8" r="2.15"/><circle cx="1014.6" cy="429.0" r="2.15"/><circle cx="1015.9" cy="430.2" r="2.15"/><circle cx="1014.2" cy="432.0" r="2.15"/><circle cx="1015.4" cy="433.1" r="2.15"/><circle cx="1014.8" cy="434.1" r="2.15"/><circle cx="1015.4" cy="435.5" r="2.15"/><circle cx="1016.1" cy="436.8" r="2.15"/><circle cx="1016.1" cy="438.3" r="2.15"/><circle cx="1015.7" cy="439.3" r="2.15"/><circle cx="1015.4" cy="440.2" r="2.15"/><circle cx="1016.3" cy="441.7" r="2.15"/><circle cx="1016.7" cy="442.8" r="2.15"/><circle cx="1016.4" cy="444.1" r="2.15"/><circle cx="1015.3" cy="445.8" r="2.15"/><circle cx="1015.2" cy="446.9" r="2.15"/><circle cx="1016.3" cy="448.2" r="2.15"/><circle cx="1015.7" cy="449.0" r="2.15"/><circle cx="1014.4" cy="450.4" r="2.15"/><circle cx="1016.5" cy="451.7" r="2.15"/><circle cx="1014.5" cy="452.7" r="2.15"/><circle cx="1015.1" cy="454.1" r="2.15"/><circle cx="1014.6" cy="455.7" r="2.15"/><circle cx="1013.7" cy="456.5" r="2.15"/><circle cx="1015.9" cy="458.1" r="2.15"/><circle cx="1015.2" cy="459.1" r="2.15"/><circle cx="1015.8" cy="461.0" r="2.15"/><circle cx="1022.9" cy="420.7" r="2.15"/><circle cx="1021.9" cy="422.3" r="2.15"/><circle cx="1022.3" cy="423.1" r="2.15"/><circle cx="1022.1" cy="424.5" r="2.15"/><circle cx="1022.2" cy="425.9" r="2.15"/><circle cx="1020.8" cy="426.7" r="2.15"/><circle cx="1021.4" cy="428.1" r="2.15"/><circle cx="1021.7" cy="429.2" r="2.15"/><circle cx="1021.8" cy="430.9" r="2.15"/><circle cx="1021.8" cy="432.3" r="2.15"/><circle cx="1021.9" cy="433.6" r="2.15"/><circle cx="1021.6" cy="434.7" r="2.15"/><circle cx="1022.2" cy="435.7" r="2.15"/><circle cx="1021.8" cy="437.3" r="2.15"/><circle cx="1022.7" cy="438.8" r="2.15"/><circle cx="1021.7" cy="439.6" r="2.15"/><circle cx="1019.9" cy="440.7" r="2.15"/><circle cx="1021.6" cy="441.9" r="2.15"/><circle cx="1021.3" cy="443.3" r="2.15"/><circle cx="1021.8" cy="445.0" r="2.15"/><circle cx="1021.5" cy="446.2" r="2.15"/><circle cx="1022.9" cy="447.4" r="2.15"/><circle cx="1021.4" cy="448.6" r="2.15"/><circle cx="1022.0" cy="449.3" r="2.15"/><circle cx="1028.8" cy="419.6" r="2.15"/><circle cx="1028.9" cy="420.9" r="2.15"/><circle cx="1027.7" cy="422.5" r="2.15"/><circle cx="1030.0" cy="423.7" r="2.15"/><circle cx="1027.4" cy="425.1" r="2.15"/><circle cx="1027.9" cy="426.4" r="2.15"/><circle cx="1028.3" cy="426.9" r="2.15"/><circle cx="1027.9" cy="428.5" r="2.15"/><circle cx="1028.4" cy="429.4" r="2.15"/><circle cx="1027.5" cy="431.2" r="2.15"/><circle cx="1027.7" cy="432.6" r="2.15"/><circle cx="1028.1" cy="433.3" r="2.15"/><circle cx="1027.7" cy="434.6" r="2.15"/><circle cx="1028.4" cy="435.8" r="2.15"/><circle cx="1029.7" cy="436.9" r="2.15"/><circle cx="1028.6" cy="438.3" r="2.15"/><circle cx="1030.0" cy="439.5" r="2.15"/><circle cx="1028.5" cy="440.7" r="2.15"/><circle cx="1028.3" cy="442.4" r="2.15"/><circle cx="1029.6" cy="443.6" r="2.15"/><circle cx="1027.4" cy="444.9" r="2.15"/><circle cx="1026.9" cy="445.8" r="2.15"/><circle cx="1028.9" cy="447.5" r="2.15"/><circle cx="1030.0" cy="448.4" r="2.15"/><circle cx="1029.1" cy="449.5" r="2.15"/><circle cx="1035.7" cy="404.9" r="2.15"/><circle cx="1034.5" cy="406.0" r="2.15"/><circle cx="1034.0" cy="407.0" r="2.15"/><circle cx="1034.9" cy="408.6" r="2.15"/><circle cx="1036.1" cy="409.6" r="2.15"/><circle cx="1035.5" cy="411.0" r="2.15"/><circle cx="1033.7" cy="412.5" r="2.15"/><circle cx="1035.1" cy="413.2" r="2.15"/><circle cx="1036.5" cy="414.5" r="2.15"/><circle cx="1034.6" cy="416.0" r="2.15"/><circle cx="1035.4" cy="417.0" r="2.15"/><circle cx="1034.8" cy="418.3" r="2.15"/><circle cx="1035.6" cy="419.5" r="2.15"/><circle cx="1035.0" cy="421.0" r="2.15"/><circle cx="1035.2" cy="422.0" r="2.15"/><circle cx="1034.6" cy="423.2" r="2.15"/><circle cx="1034.0" cy="424.5" r="2.15"/><circle cx="1036.1" cy="426.0" r="2.15"/><circle cx="1034.5" cy="427.5" r="2.15"/><circle cx="1034.7" cy="428.3" r="2.15"/><circle cx="1035.5" cy="429.6" r="2.15"/><circle cx="1035.5" cy="430.7" r="2.15"/><circle cx="1036.4" cy="432.0" r="2.15"/><circle cx="1036.0" cy="433.2" r="2.15"/><circle cx="1036.1" cy="434.8" r="2.15"/><circle cx="1034.4" cy="435.6" r="2.15"/><circle cx="1036.0" cy="437.3" r="2.15"/><circle cx="1035.5" cy="438.5" r="2.15"/><circle cx="1035.9" cy="439.8" r="2.15"/><circle cx="1042.5" cy="414.6" r="2.15"/><circle cx="1042.8" cy="416.0" r="2.15"/><circle cx="1041.9" cy="417.4" r="2.15"/><circle cx="1041.6" cy="418.4" r="2.15"/><circle cx="1042.8" cy="420.1" r="2.15"/><circle cx="1042.3" cy="421.3" r="2.15"/><circle cx="1041.5" cy="422.4" r="2.15"/><circle cx="1041.2" cy="423.4" r="2.15"/><circle cx="1042.0" cy="424.2" r="2.15"/><circle cx="1043.0" cy="425.8" r="2.15"/><circle cx="1048.0" cy="388.0" r="2.15"/><circle cx="1048.3" cy="389.1" r="2.15"/><circle cx="1050.1" cy="390.5" r="2.15"/><circle cx="1048.8" cy="391.7" r="2.15"/><circle cx="1048.8" cy="392.7" r="2.15"/><circle cx="1049.0" cy="394.0" r="2.15"/><circle cx="1049.1" cy="395.4" r="2.15"/><circle cx="1050.0" cy="396.5" r="2.15"/><circle cx="1049.0" cy="398.3" r="2.15"/><circle cx="1050.1" cy="399.3" r="2.15"/><circle cx="1048.7" cy="400.1" r="2.15"/><circle cx="1048.6" cy="401.9" r="2.15"/><circle cx="1048.7" cy="403.1" r="2.15"/><circle cx="1050.0" cy="404.0" r="2.15"/><circle cx="1048.6" cy="405.3" r="2.15"/><circle cx="1050.0" cy="407.0" r="2.15"/><circle cx="1047.9" cy="407.6" r="2.15"/><circle cx="1048.8" cy="409.1" r="2.15"/><circle cx="1048.6" cy="410.8" r="2.15"/><circle cx="1049.8" cy="411.7" r="2.15"/><circle cx="1049.3" cy="413.3" r="2.15"/><circle cx="1048.6" cy="414.3" r="2.15"/><circle cx="1047.9" cy="415.4" r="2.15"/><circle cx="1048.2" cy="416.7" r="2.15"/><circle cx="1047.4" cy="417.9" r="2.15"/><circle cx="1049.3" cy="419.2" r="2.15"/><circle cx="1049.3" cy="420.2" r="2.15"/><circle cx="1048.8" cy="421.6" r="2.15"/><circle cx="1054.9" cy="397.3" r="2.15"/><circle cx="1056.2" cy="397.9" r="2.15"/><circle cx="1056.4" cy="399.7" r="2.15"/><circle cx="1055.2" cy="400.3" r="2.15"/><circle cx="1055.2" cy="402.2" r="2.15"/><circle cx="1056.7" cy="403.2" r="2.15"/><circle cx="1055.5" cy="404.2" r="2.15"/><circle cx="1055.9" cy="405.4" r="2.15"/><circle cx="1055.0" cy="407.1" r="2.15"/><circle cx="1054.8" cy="408.5" r="2.15"/><circle cx="1056.8" cy="409.0" r="2.15"/><circle cx="1056.1" cy="410.6" r="2.15"/><circle cx="1055.7" cy="411.9" r="2.15"/><circle cx="1056.9" cy="413.3" r="2.15"/><circle cx="1056.0" cy="414.1" r="2.15"/><circle cx="1055.3" cy="415.3" r="2.15"/><circle cx="1056.6" cy="416.7" r="2.15"/><circle cx="1140.6" cy="384.3" r="2.15"/><circle cx="1138.2" cy="386.0" r="2.15"/><circle cx="1138.4" cy="389.3" r="2.15"/><circle cx="1140.6" cy="397.6" r="2.15"/><circle cx="1137.9" cy="398.7" r="2.15"/><circle cx="1137.9" cy="402.6" r="2.15"/><circle cx="1139.0" cy="408.1" r="2.15"/><circle cx="1137.3" cy="413.9" r="2.15"/><circle cx="1136.2" cy="417.5" r="2.15"/><circle cx="1139.5" cy="420.6" r="2.15"/><circle cx="1136.2" cy="421.9" r="2.15"/><circle cx="1140.3" cy="424.3" r="2.15"/><circle cx="1136.8" cy="426.3" r="2.15"/><circle cx="1139.5" cy="427.6" r="2.15"/><circle cx="1136.2" cy="429.6" r="2.15"/><circle cx="1139.8" cy="431.8" r="2.15"/><circle cx="1135.7" cy="433.0" r="2.15"/><circle cx="1139.8" cy="433.8" r="2.15"/><circle cx="1135.1" cy="436.8" r="2.15"/><circle cx="1139.5" cy="438.7" r="2.15"/><circle cx="1140.7" cy="278.3" r="2.15"/><circle cx="1210.8" cy="304.7" r="2.15"/><circle cx="1207.6" cy="311.7" r="2.15"/><circle cx="1267.5" cy="319.4" r="2.15"/><circle cx="1267.5" cy="322.2" r="2.15"/><circle cx="1147.7" cy="333.5" r="2.15"/><circle cx="1155.5" cy="331.7" r="2.15"/><circle cx="1173.5" cy="329.5" r="2.15"/><circle cx="1179.5" cy="328.2" r="2.15"/><circle cx="1185.5" cy="338.5" r="2.15"/><circle cx="1173.5" cy="349.5" r="2.15"/><circle cx="1167.5" cy="359.5" r="2.15"/><circle cx="1159.5" cy="377.3" r="2.15"/><circle cx="1122.6" cy="357.3" r="2.15"/><circle cx="1129.4" cy="361.6" r="2.15"/><circle cx="1118.4" cy="384.4" r="2.15"/><circle cx="1120.4" cy="396.6" r="2.15"/><circle cx="1081.5" cy="348.5" r="2.15"/><circle cx="1081.5" cy="359.5" r="2.15"/></g>
</g>
<g>
<rect class="sp" x="68" y="560" width="2" height="369"/>
<rect class="sp" x="435" y="560" width="2" height="369"/>
<rect class="sp" x="68" y="560" width="369" height="2"/>
<rect class="sp" x="68" y="927" width="369" height="2"/>
<rect class="sp" x="84" y="929" width="2" height="6"/>
<rect class="sp" x="62" y="910" width="6" height="2"/>
<text class="k" x="85.2" y="957" text-anchor="middle">0</text>
<text class="k" x="54.9" y="919" text-anchor="end">0</text>
<rect class="sp" x="151" y="929" width="2" height="6"/>
<rect class="sp" x="62" y="844" width="6" height="2"/>
<text class="k" x="152.2" y="957" text-anchor="middle">1</text>
<text class="k" x="54.9" y="852" text-anchor="end">1</text>
<rect class="sp" x="218" y="929" width="2" height="6"/>
<rect class="sp" x="62" y="777" width="6" height="2"/>
<text class="k" x="219.2" y="957" text-anchor="middle">2</text>
<text class="k" x="54.9" y="785" text-anchor="end">2</text>
<rect class="sp" x="285" y="929" width="2" height="6"/>
<rect class="sp" x="62" y="710" width="6" height="2"/>
<text class="k" x="286.2" y="957" text-anchor="middle">3</text>
<text class="k" x="54.9" y="718" text-anchor="end">3</text>
<rect class="sp" x="351" y="929" width="2" height="6"/>
<rect class="sp" x="62" y="643" width="6" height="2"/>
<text class="k" x="352.2" y="957" text-anchor="middle">4</text>
<text class="k" x="54.9" y="652" text-anchor="end">4</text>
<rect class="sp" x="418" y="929" width="2" height="6"/>
<rect class="sp" x="62" y="576" width="6" height="2"/>
<text class="k" x="419.2" y="957" text-anchor="middle">5</text>
<text class="k" x="54.9" y="585" text-anchor="end">5</text>
<line x1="85.30" y1="911.30" x2="419.20" y2="577.40" stroke="#000" stroke-width="3.125" stroke-dasharray="3.125 5.156"/>
<text class="t" letter-spacing="0.11" x="94.2" y="598">Rel. bias = -0.226</text>
<text class="t" x="94.2" y="635" xml:space="preserve" style="white-space:pre">SI =  0.627</text>
<text class="t" letter-spacing="0.06" x="94.2" y="671">N = 464</text>
<text class="t" letter-spacing="0.1" x="288.6" y="892">96h fcst</text>
<text class="t" transform="translate(30.0,745.3) rotate(-90)" letter-spacing="0.1" text-anchor="middle">Hs,mod (m)</text>
<text class="t" x="252.7" y="985" letter-spacing="0.1" text-anchor="middle">Hs,obs (m)</text>
<g class="d"><circle cx="92.5" cy="901.1" r="2.15"/><circle cx="105.6" cy="867.5" r="2.15"/><circle cx="112.4" cy="863.3" r="2.15"/><circle cx="111.4" cy="904.4" r="2.15"/><circle cx="119.5" cy="849.3" r="2.15"/><circle cx="119.5" cy="852.3" r="2.15"/><circle cx="119.5" cy="902.4" r="2.15"/><circle cx="131.3" cy="885.7" r="2.15"/><circle cx="134.3" cy="892.7" r="2.15"/><circle cx="132.5" cy="904.1" r="2.15"/><circle cx="132.5" cy="906.6" r="2.15"/><circle cx="139.5" cy="842.7" r="2.15"/><circle cx="138.8" cy="884.7" r="2.15"/><circle cx="140.3" cy="887.2" r="2.15"/><circle cx="139.5" cy="891.5" r="2.15"/><circle cx="146.5" cy="822.5" r="2.15"/><circle cx="146.5" cy="828.7" r="2.15"/><circle cx="144.5" cy="836.4" r="2.15"/><circle cx="145.2" cy="840.9" r="2.15"/><circle cx="146.5" cy="843.9" r="2.15"/><circle cx="145.7" cy="863.8" r="2.15"/><circle cx="144.7" cy="867.3" r="2.15"/><circle cx="144.7" cy="870.8" r="2.15"/><circle cx="145.4" cy="878.7" r="2.15"/><circle cx="145.4" cy="880.2" r="2.15"/><circle cx="148.5" cy="885.2" r="2.15"/><circle cx="152.4" cy="836.6" r="2.15"/><circle cx="151.2" cy="845.9" r="2.15"/><circle cx="153.2" cy="847.9" r="2.15"/><circle cx="153.4" cy="871.5" r="2.15"/><circle cx="151.5" cy="891.5" r="2.15"/><circle cx="151.5" cy="897.2" r="2.15"/><circle cx="151.5" cy="901.6" r="2.15"/><circle cx="159.4" cy="813.5" r="2.15"/><circle cx="158.5" cy="822.5" r="2.15"/><circle cx="158.7" cy="830.4" r="2.15"/><circle cx="160.2" cy="829.4" r="2.15"/><circle cx="158.5" cy="836.4" r="2.15"/><circle cx="159.4" cy="845.4" r="2.15"/><circle cx="159.4" cy="847.4" r="2.15"/><circle cx="159.4" cy="854.5" r="2.15"/><circle cx="167.5" cy="846.4" r="2.15"/><circle cx="164.7" cy="860.3" r="2.15"/><circle cx="164.7" cy="862.8" r="2.15"/><circle cx="165.5" cy="868.1" r="2.15"/><circle cx="168.4" cy="877.2" r="2.15"/><circle cx="171.4" cy="831.4" r="2.15"/><circle cx="174.4" cy="835.4" r="2.15"/><circle cx="172.4" cy="868.5" r="2.15"/><circle cx="172.4" cy="878.2" r="2.15"/><circle cx="172.4" cy="881.7" r="2.15"/><circle cx="179.6" cy="824.4" r="2.15"/><circle cx="179.6" cy="826.4" r="2.15"/><circle cx="178.6" cy="843.4" r="2.15"/><circle cx="179.4" cy="846.4" r="2.15"/><circle cx="178.1" cy="848.6" r="2.15"/><circle cx="178.6" cy="858.6" r="2.15"/><circle cx="178.6" cy="862.6" r="2.15"/><circle cx="184.4" cy="835.4" r="2.15"/><circle cx="184.4" cy="837.4" r="2.15"/><circle cx="185.6" cy="852.3" r="2.15"/><circle cx="184.4" cy="858.6" r="2.15"/><circle cx="193.5" cy="840.4" r="2.15"/><circle cx="193.5" cy="846.4" r="2.15"/><circle cx="100.0" cy="885.3" r="2.15"/><circle cx="99.6" cy="886.2" r="2.15"/><circle cx="100.4" cy="887.3" r="2.15"/><circle cx="99.4" cy="888.9" r="2.15"/><circle cx="100.3" cy="890.4" r="2.15"/><circle cx="98.7" cy="891.1" r="2.15"/><circle cx="99.2" cy="892.4" r="2.15"/><circle cx="99.1" cy="893.9" r="2.15"/><circle cx="98.0" cy="894.6" r="2.15"/><circle cx="100.6" cy="895.8" r="2.15"/><circle cx="99.7" cy="897.3" r="2.15"/><circle cx="98.2" cy="898.2" r="2.15"/><circle cx="99.2" cy="899.9" r="2.15"/><circle cx="99.5" cy="900.6" r="2.15"/><circle cx="98.9" cy="902.4" r="2.15"/><circle cx="99.4" cy="903.2" r="2.15"/><circle cx="100.3" cy="904.5" r="2.15"/><circle cx="105.1" cy="872.5" r="2.15"/><circle cx="107.4" cy="873.2" r="2.15"/><circle cx="105.8" cy="874.4" r="2.15"/><circle cx="106.3" cy="876.4" r="2.15"/><circle cx="106.7" cy="877.7" r="2.15"/><circle cx="105.1" cy="878.8" r="2.15"/><circle cx="105.6" cy="880.1" r="2.15"/><circle cx="105.5" cy="880.9" r="2.15"/><circle cx="105.6" cy="882.2" r="2.15"/><circle cx="105.5" cy="883.4" r="2.15"/><circle cx="106.2" cy="884.4" r="2.15"/><circle cx="105.0" cy="886.1" r="2.15"/><circle cx="105.3" cy="887.6" r="2.15"/><circle cx="105.4" cy="888.3" r="2.15"/><circle cx="105.9" cy="889.4" r="2.15"/><circle cx="106.5" cy="891.4" r="2.15"/><circle cx="105.1" cy="892.5" r="2.15"/><circle cx="104.8" cy="893.9" r="2.15"/><circle cx="105.4" cy="894.9" r="2.15"/><circle cx="105.3" cy="896.5" r="2.15"/><circle cx="105.9" cy="897.5" r="2.15"/><circle cx="105.6" cy="898.6" r="2.15"/><circle cx="105.5" cy="900.0" r="2.15"/><circle cx="106.0" cy="901.1" r="2.15"/><circle cx="105.7" cy="902.2" r="2.15"/><circle cx="105.7" cy="904.0" r="2.15"/><circle cx="112.2" cy="869.6" r="2.15"/><circle cx="112.7" cy="870.3" r="2.15"/><circle cx="112.6" cy="871.9" r="2.15"/><circle cx="111.9" cy="873.0" r="2.15"/><circle cx="112.0" cy="874.0" r="2.15"/><circle cx="111.6" cy="875.5" r="2.15"/><circle cx="111.7" cy="876.9" r="2.15"/><circle cx="112.2" cy="877.9" r="2.15"/><circle cx="112.2" cy="879.1" r="2.15"/><circle cx="113.3" cy="880.1" r="2.15"/><circle cx="112.0" cy="881.7" r="2.15"/><circle cx="111.6" cy="883.0" r="2.15"/><circle cx="111.5" cy="883.7" r="2.15"/><circle cx="112.5" cy="885.0" r="2.15"/><circle cx="113.3" cy="886.5" r="2.15"/><circle cx="111.8" cy="887.6" r="2.15"/><circle cx="112.6" cy="888.9" r="2.15"/><circle cx="112.7" cy="889.7" r="2.15"/><circle cx="111.4" cy="891.0" r="2.15"/><circle cx="112.5" cy="892.3" r="2.15"/><circle cx="112.5" cy="893.5" r="2.15"/><circle cx="111.6" cy="895.1" r="2.15"/><circle cx="111.5" cy="896.4" r="2.15"/><circle cx="112.3" cy="897.6" r="2.15"/><circle cx="112.6" cy="898.5" r="2.15"/><circle cx="119.1" cy="858.5" r="2.15"/><circle cx="119.8" cy="860.0" r="2.15"/><circle cx="119.1" cy="861.0" r="2.15"/><circle cx="119.3" cy="862.5" r="2.15"/><circle cx="119.4" cy="863.9" r="2.15"/><circle cx="119.4" cy="865.1" r="2.15"/><circle cx="119.1" cy="866.3" r="2.15"/><circle cx="119.2" cy="867.7" r="2.15"/><circle cx="118.2" cy="869.3" r="2.15"/><circle cx="119.5" cy="870.4" r="2.15"/><circle cx="120.1" cy="871.2" r="2.15"/><circle cx="118.4" cy="872.9" r="2.15"/><circle cx="118.7" cy="874.4" r="2.15"/><circle cx="119.0" cy="875.7" r="2.15"/><circle cx="118.1" cy="876.5" r="2.15"/><circle cx="119.5" cy="877.8" r="2.15"/><circle cx="119.7" cy="879.2" r="2.15"/><circle cx="118.8" cy="880.3" r="2.15"/><circle cx="119.7" cy="882.0" r="2.15"/><circle cx="119.1" cy="883.2" r="2.15"/><circle cx="119.4" cy="884.5" r="2.15"/><circle cx="119.3" cy="885.2" r="2.15"/><circle cx="120.1" cy="886.5" r="2.15"/><circle cx="118.4" cy="888.3" r="2.15"/><circle cx="119.5" cy="889.4" r="2.15"/><circle cx="119.7" cy="890.6" r="2.15"/><circle cx="119.9" cy="891.5" r="2.15"/><circle cx="119.4" cy="893.3" r="2.15"/><circle cx="120.5" cy="894.8" r="2.15"/><circle cx="118.4" cy="896.0" r="2.15"/><circle cx="125.6" cy="851.8" r="2.15"/><circle cx="124.2" cy="853.4" r="2.15"/><circle cx="125.1" cy="854.5" r="2.15"/><circle cx="125.8" cy="855.9" r="2.15"/><circle cx="126.5" cy="856.8" r="2.15"/><circle cx="125.8" cy="858.3" r="2.15"/><circle cx="124.6" cy="859.6" r="2.15"/><circle cx="124.4" cy="860.8" r="2.15"/><circle cx="124.7" cy="862.2" r="2.15"/><circle cx="125.4" cy="862.8" r="2.15"/><circle cx="125.0" cy="864.3" r="2.15"/><circle cx="125.2" cy="865.3" r="2.15"/><circle cx="125.0" cy="867.0" r="2.15"/><circle cx="124.9" cy="868.0" r="2.15"/><circle cx="126.3" cy="869.7" r="2.15"/><circle cx="124.2" cy="870.5" r="2.15"/><circle cx="125.9" cy="872.0" r="2.15"/><circle cx="123.8" cy="873.4" r="2.15"/><circle cx="124.4" cy="874.8" r="2.15"/><circle cx="125.3" cy="875.6" r="2.15"/><circle cx="125.7" cy="876.5" r="2.15"/><circle cx="125.8" cy="878.4" r="2.15"/><circle cx="125.9" cy="879.7" r="2.15"/><circle cx="125.7" cy="880.6" r="2.15"/><circle cx="125.2" cy="882.1" r="2.15"/><circle cx="125.8" cy="883.4" r="2.15"/><circle cx="126.6" cy="884.5" r="2.15"/><circle cx="125.7" cy="885.4" r="2.15"/><circle cx="125.5" cy="886.7" r="2.15"/><circle cx="126.7" cy="887.8" r="2.15"/><circle cx="125.5" cy="889.4" r="2.15"/><circle cx="126.0" cy="891.0" r="2.15"/><circle cx="133.2" cy="843.0" r="2.15"/><circle cx="132.4" cy="844.4" r="2.15"/><circle cx="131.3" cy="845.6" r="2.15"/><circle cx="133.5" cy="847.4" r="2.15"/><circle cx="132.5" cy="848.5" r="2.15"/><circle cx="133.7" cy="849.3" r="2.15"/><circle cx="132.7" cy="850.5" r="2.15"/><circle cx="132.7" cy="851.7" r="2.15"/><circle cx="134.1" cy="853.5" r="2.15"/><circle cx="133.1" cy="854.2" r="2.15"/><circle cx="132.3" cy="855.6" r="2.15"/><circle cx="132.5" cy="856.9" r="2.15"/><circle cx="132.1" cy="858.3" r="2.15"/><circle cx="132.4" cy="859.6" r="2.15"/><circle cx="131.4" cy="860.5" r="2.15"/><circle cx="132.8" cy="862.4" r="2.15"/><circle cx="132.3" cy="863.6" r="2.15"/><circle cx="133.5" cy="864.6" r="2.15"/><circle cx="132.0" cy="866.1" r="2.15"/><circle cx="131.6" cy="867.2" r="2.15"/><circle cx="133.1" cy="868.5" r="2.15"/><circle cx="131.8" cy="869.7" r="2.15"/><circle cx="133.2" cy="870.4" r="2.15"/><circle cx="133.0" cy="872.0" r="2.15"/><circle cx="133.2" cy="873.5" r="2.15"/><circle cx="134.6" cy="874.7" r="2.15"/><circle cx="131.9" cy="875.8" r="2.15"/><circle cx="133.8" cy="876.9" r="2.15"/><circle cx="133.2" cy="878.4" r="2.15"/><circle cx="133.8" cy="879.3" r="2.15"/><circle cx="132.4" cy="880.9" r="2.15"/><circle cx="139.5" cy="855.1" r="2.15"/><circle cx="139.4" cy="855.7" r="2.15"/><circle cx="138.6" cy="857.1" r="2.15"/><circle cx="140.6" cy="858.6" r="2.15"/><circle cx="138.7" cy="859.9" r="2.15"/><circle cx="138.3" cy="860.8" r="2.15"/><circle cx="139.4" cy="862.6" r="2.15"/><circle cx="139.0" cy="863.6" r="2.15"/><circle cx="139.8" cy="864.7" r="2.15"/><circle cx="140.7" cy="865.7" r="2.15"/><circle cx="139.5" cy="867.2" r="2.15"/><circle cx="140.5" cy="868.5" r="2.15"/><circle cx="140.0" cy="869.5" r="2.15"/><circle cx="139.2" cy="871.2" r="2.15"/><circle cx="139.2" cy="872.4" r="2.15"/><circle cx="138.7" cy="873.6" r="2.15"/><circle cx="137.7" cy="874.8" r="2.15"/><circle cx="140.1" cy="876.0" r="2.15"/><circle cx="140.7" cy="877.5" r="2.15"/><circle cx="139.2" cy="878.4" r="2.15"/><circle cx="139.4" cy="880.1" r="2.15"/><circle cx="145.2" cy="849.1" r="2.15"/><circle cx="145.2" cy="850.6" r="2.15"/><circle cx="146.4" cy="851.7" r="2.15"/><circle cx="144.8" cy="853.0" r="2.15"/><circle cx="145.0" cy="854.4" r="2.15"/><circle cx="146.8" cy="855.3" r="2.15"/><circle cx="145.1" cy="856.2" r="2.15"/><circle cx="144.6" cy="857.6" r="2.15"/><circle cx="146.3" cy="858.7" r="2.15"/><circle cx="151.3" cy="854.7" r="2.15"/><circle cx="153.9" cy="856.1" r="2.15"/><circle cx="152.9" cy="857.6" r="2.15"/><circle cx="152.7" cy="858.5" r="2.15"/><circle cx="154.0" cy="859.7" r="2.15"/><circle cx="152.2" cy="860.7" r="2.15"/><circle cx="153.1" cy="861.8" r="2.15"/><circle cx="154.1" cy="863.7" r="2.15"/><circle cx="153.6" cy="864.7" r="2.15"/><circle cx="152.5" cy="866.2" r="2.15"/><circle cx="231.5" cy="735.3" r="2.15"/><circle cx="231.5" cy="740.5" r="2.15"/><circle cx="179.5" cy="780.0" r="2.15"/><circle cx="179.5" cy="783.6" r="2.15"/><circle cx="171.6" cy="796.5" r="2.15"/><circle cx="216.1" cy="781.6" r="2.15"/><circle cx="212.5" cy="789.4" r="2.15"/><circle cx="236.5" cy="796.3" r="2.15"/><circle cx="282.6" cy="790.5" r="2.15"/><circle cx="277.4" cy="795.4" r="2.15"/><circle cx="270.5" cy="800.5" r="2.15"/><circle cx="270.5" cy="804.4" r="2.15"/><circle cx="277.4" cy="803.5" r="2.15"/><circle cx="257.4" cy="807.3" r="2.15"/><circle cx="194.4" cy="808.5" r="2.15"/><circle cx="227.4" cy="817.3" r="2.15"/><circle cx="244.3" cy="819.5" r="2.15"/><circle cx="265.5" cy="822.5" r="2.15"/><circle cx="282.6" cy="819.5" r="2.15"/><circle cx="219.4" cy="830.3" r="2.15"/><circle cx="252.5" cy="832.4" r="2.15"/><circle cx="218.5" cy="847.4" r="2.15"/><circle cx="235.3" cy="834.2" r="2.15"/><circle cx="237.0" cy="836.4" r="2.15"/><circle cx="237.8" cy="837.5" r="2.15"/><circle cx="235.5" cy="842.7" r="2.15"/><circle cx="235.5" cy="849.4" r="2.15"/><circle cx="234.4" cy="852.4" r="2.15"/><circle cx="234.2" cy="857.9" r="2.15"/><circle cx="237.8" cy="860.7" r="2.15"/><circle cx="233.1" cy="862.0" r="2.15"/><circle cx="236.4" cy="864.6" r="2.15"/><circle cx="235.9" cy="866.8" r="2.15"/><circle cx="233.7" cy="869.5" r="2.15"/><circle cx="237.5" cy="871.2" r="2.15"/><circle cx="232.6" cy="873.6" r="2.15"/><circle cx="237.8" cy="875.3" r="2.15"/><circle cx="232.3" cy="877.3" r="2.15"/><circle cx="236.4" cy="880.4" r="2.15"/><circle cx="233.4" cy="881.7" r="2.15"/><circle cx="236.4" cy="887.4" r="2.15"/><circle cx="307.3" cy="754.5" r="2.15"/><circle cx="379.4" cy="757.4" r="2.15"/><circle cx="365.6" cy="790.3" r="2.15"/><circle cx="365.6" cy="795.6" r="2.15"/></g>
</g>
<g>
<rect class="sp" x="519" y="560" width="2" height="369"/>
<rect class="sp" x="886" y="560" width="2" height="369"/>
<rect class="sp" x="519" y="560" width="369" height="2"/>
<rect class="sp" x="519" y="927" width="369" height="2"/>
<rect class="sp" x="536" y="929" width="2" height="6"/>
<rect class="sp" x="513" y="910" width="6" height="2"/>
<text class="k" x="537.2" y="957" text-anchor="middle">0</text>
<text class="k" x="505.9" y="919" text-anchor="end">0</text>
<rect class="sp" x="602" y="929" width="2" height="6"/>
<rect class="sp" x="513" y="844" width="6" height="2"/>
<text class="k" x="603.2" y="957" text-anchor="middle">1</text>
<text class="k" x="505.9" y="852" text-anchor="end">1</text>
<rect class="sp" x="669" y="929" width="2" height="6"/>
<rect class="sp" x="513" y="777" width="6" height="2"/>
<text class="k" x="670.2" y="957" text-anchor="middle">2</text>
<text class="k" x="505.9" y="785" text-anchor="end">2</text>
<rect class="sp" x="736" y="929" width="2" height="6"/>
<rect class="sp" x="513" y="710" width="6" height="2"/>
<text class="k" x="737.2" y="957" text-anchor="middle">3</text>
<text class="k" x="505.9" y="718" text-anchor="end">3</text>
<rect class="sp" x="803" y="929" width="2" height="6"/>
<rect class="sp" x="513" y="643" width="6" height="2"/>
<text class="k" x="804.2" y="957" text-anchor="middle">4</text>
<text class="k" x="505.9" y="652" text-anchor="end">4</text>
<rect class="sp" x="870" y="929" width="2" height="6"/>
<rect class="sp" x="513" y="576" width="6" height="2"/>
<text class="k" x="871.2" y="957" text-anchor="middle">5</text>
<text class="k" x="505.9" y="585" text-anchor="end">5</text>
<line x1="536.67" y1="911.30" x2="870.57" y2="577.40" stroke="#000" stroke-width="3.125" stroke-dasharray="3.125 5.156"/>
<text class="t" letter-spacing="0.11" x="545.5" y="598">Rel. bias = -0.267</text>
<text class="t" x="545.5" y="635" xml:space="preserve" style="white-space:pre">SI =  0.726</text>
<text class="t" letter-spacing="0.06" x="545.5" y="671">N = 465</text>
<text class="t" letter-spacing="0.01" x="740.5" y="892">120h fcst</text>
<text class="t" x="703.7" y="985" letter-spacing="0.1" text-anchor="middle">Hs,obs (m)</text>
<g class="d"><circle cx="543.5" cy="899.1" r="2.15"/><circle cx="550.4" cy="881.2" r="2.15"/><circle cx="550.4" cy="884.7" r="2.15"/><circle cx="557.4" cy="869.3" r="2.15"/><circle cx="563.4" cy="856.3" r="2.15"/><circle cx="563.4" cy="861.8" r="2.15"/><circle cx="569.8" cy="885.7" r="2.15"/><circle cx="570.8" cy="888.7" r="2.15"/><circle cx="570.3" cy="891.7" r="2.15"/><circle cx="569.3" cy="895.2" r="2.15"/><circle cx="570.5" cy="900.1" r="2.15"/><circle cx="570.5" cy="902.6" r="2.15"/><circle cx="577.5" cy="851.3" r="2.15"/><circle cx="576.3" cy="884.7" r="2.15"/><circle cx="576.8" cy="887.7" r="2.15"/><circle cx="577.3" cy="890.7" r="2.15"/><circle cx="578.8" cy="893.7" r="2.15"/><circle cx="581.8" cy="886.7" r="2.15"/><circle cx="582.3" cy="890.2" r="2.15"/><circle cx="583.5" cy="901.4" r="2.15"/><circle cx="583.5" cy="905.4" r="2.15"/><circle cx="586.5" cy="852.3" r="2.15"/><circle cx="590.5" cy="843.4" r="2.15"/><circle cx="589.3" cy="882.7" r="2.15"/><circle cx="588.8" cy="885.2" r="2.15"/><circle cx="591.3" cy="887.2" r="2.15"/><circle cx="590.5" cy="893.5" r="2.15"/><circle cx="597.5" cy="816.5" r="2.15"/><circle cx="598.5" cy="831.4" r="2.15"/><circle cx="596.2" cy="835.4" r="2.15"/><circle cx="596.2" cy="839.4" r="2.15"/><circle cx="596.2" cy="842.9" r="2.15"/><circle cx="596.2" cy="845.9" r="2.15"/><circle cx="596.4" cy="870.8" r="2.15"/><circle cx="597.2" cy="873.7" r="2.15"/><circle cx="594.7" cy="875.7" r="2.15"/><circle cx="599.5" cy="883.5" r="2.15"/><circle cx="598.4" cy="891.5" r="2.15"/><circle cx="603.4" cy="829.4" r="2.15"/><circle cx="603.4" cy="835.4" r="2.15"/><circle cx="603.4" cy="839.6" r="2.15"/><circle cx="603.4" cy="851.5" r="2.15"/><circle cx="605.5" cy="858.3" r="2.15"/><circle cx="602.9" cy="861.8" r="2.15"/><circle cx="603.4" cy="864.8" r="2.15"/><circle cx="605.5" cy="870.6" r="2.15"/><circle cx="602.5" cy="895.2" r="2.15"/><circle cx="602.5" cy="897.7" r="2.15"/><circle cx="602.5" cy="902.4" r="2.15"/><circle cx="609.5" cy="832.4" r="2.15"/><circle cx="610.7" cy="834.4" r="2.15"/><circle cx="610.4" cy="842.7" r="2.15"/><circle cx="611.2" cy="848.4" r="2.15"/><circle cx="610.4" cy="852.3" r="2.15"/><circle cx="610.4" cy="861.6" r="2.15"/><circle cx="618.5" cy="820.7" r="2.15"/><circle cx="618.5" cy="846.4" r="2.15"/><circle cx="617.5" cy="855.3" r="2.15"/><circle cx="617.5" cy="856.3" r="2.15"/><circle cx="616.5" cy="863.3" r="2.15"/><circle cx="616.5" cy="868.5" r="2.15"/><circle cx="619.4" cy="875.2" r="2.15"/><circle cx="619.4" cy="880.5" r="2.15"/><circle cx="623.4" cy="811.0" r="2.15"/><circle cx="623.4" cy="814.8" r="2.15"/><circle cx="622.1" cy="834.4" r="2.15"/><circle cx="622.6" cy="836.4" r="2.15"/><circle cx="626.3" cy="839.6" r="2.15"/><circle cx="623.4" cy="874.2" r="2.15"/><circle cx="623.6" cy="876.5" r="2.15"/><circle cx="630.4" cy="836.4" r="2.15"/><circle cx="630.1" cy="843.4" r="2.15"/><circle cx="629.4" cy="847.7" r="2.15"/><circle cx="629.4" cy="856.5" r="2.15"/><circle cx="629.4" cy="870.8" r="2.15"/><circle cx="630.4" cy="875.2" r="2.15"/><circle cx="629.4" cy="877.5" r="2.15"/><circle cx="637.4" cy="818.5" r="2.15"/><circle cx="637.4" cy="825.4" r="2.15"/><circle cx="636.4" cy="829.4" r="2.15"/><circle cx="636.4" cy="835.4" r="2.15"/><circle cx="636.6" cy="866.5" r="2.15"/><circle cx="645.5" cy="830.4" r="2.15"/><circle cx="645.5" cy="831.4" r="2.15"/><circle cx="551.7" cy="888.4" r="2.15"/><circle cx="551.0" cy="889.8" r="2.15"/><circle cx="550.0" cy="891.2" r="2.15"/><circle cx="552.3" cy="892.3" r="2.15"/><circle cx="550.4" cy="893.8" r="2.15"/><circle cx="550.3" cy="895.1" r="2.15"/><circle cx="550.2" cy="896.1" r="2.15"/><circle cx="550.8" cy="897.5" r="2.15"/><circle cx="549.5" cy="898.5" r="2.15"/><circle cx="550.6" cy="899.6" r="2.15"/><circle cx="550.6" cy="901.0" r="2.15"/><circle cx="550.9" cy="902.5" r="2.15"/><circle cx="550.1" cy="903.2" r="2.15"/><circle cx="549.9" cy="904.3" r="2.15"/><circle cx="559.2" cy="874.1" r="2.15"/><circle cx="557.0" cy="875.9" r="2.15"/><circle cx="556.5" cy="876.8" r="2.15"/><circle cx="555.4" cy="877.7" r="2.15"/><circle cx="558.4" cy="879.0" r="2.15"/><circle cx="556.2" cy="880.5" r="2.15"/><circle cx="556.5" cy="882.0" r="2.15"/><circle cx="557.5" cy="883.3" r="2.15"/><circle cx="558.5" cy="884.2" r="2.15"/><circle cx="556.5" cy="885.9" r="2.15"/><circle cx="557.2" cy="886.8" r="2.15"/><circle cx="558.5" cy="888.3" r="2.15"/><circle cx="555.7" cy="889.1" r="2.15"/><circle cx="556.5" cy="890.4" r="2.15"/><circle cx="557.9" cy="892.0" r="2.15"/><circle cx="556.5" cy="893.6" r="2.15"/><circle cx="557.6" cy="894.9" r="2.15"/><circle cx="556.5" cy="895.6" r="2.15"/><circle cx="556.9" cy="897.0" r="2.15"/><circle cx="557.7" cy="898.5" r="2.15"/><circle cx="558.5" cy="899.7" r="2.15"/><circle cx="557.7" cy="900.5" r="2.15"/><circle cx="558.1" cy="902.5" r="2.15"/><circle cx="564.4" cy="867.8" r="2.15"/><circle cx="562.4" cy="868.7" r="2.15"/><circle cx="562.7" cy="870.0" r="2.15"/><circle cx="563.7" cy="871.7" r="2.15"/><circle cx="563.2" cy="873.0" r="2.15"/><circle cx="564.2" cy="874.1" r="2.15"/><circle cx="562.7" cy="875.2" r="2.15"/><circle cx="564.1" cy="876.6" r="2.15"/><circle cx="562.8" cy="878.0" r="2.15"/><circle cx="565.0" cy="878.9" r="2.15"/><circle cx="563.8" cy="880.4" r="2.15"/><circle cx="563.3" cy="881.8" r="2.15"/><circle cx="563.1" cy="883.1" r="2.15"/><circle cx="563.0" cy="884.6" r="2.15"/><circle cx="564.3" cy="885.5" r="2.15"/><circle cx="563.6" cy="887.1" r="2.15"/><circle cx="562.9" cy="888.1" r="2.15"/><circle cx="564.5" cy="889.7" r="2.15"/><circle cx="563.2" cy="890.7" r="2.15"/><circle cx="562.5" cy="891.7" r="2.15"/><circle cx="563.4" cy="893.6" r="2.15"/><circle cx="563.7" cy="894.7" r="2.15"/><circle cx="563.7" cy="896.1" r="2.15"/><circle cx="562.8" cy="897.5" r="2.15"/><circle cx="563.7" cy="898.3" r="2.15"/><circle cx="562.5" cy="900.0" r="2.15"/><circle cx="570.8" cy="848.5" r="2.15"/><circle cx="569.4" cy="849.4" r="2.15"/><circle cx="571.4" cy="850.7" r="2.15"/><circle cx="570.2" cy="851.7" r="2.15"/><circle cx="570.1" cy="853.1" r="2.15"/><circle cx="571.7" cy="854.6" r="2.15"/><circle cx="570.5" cy="855.5" r="2.15"/><circle cx="570.6" cy="856.8" r="2.15"/><circle cx="570.3" cy="858.1" r="2.15"/><circle cx="571.0" cy="859.8" r="2.15"/><circle cx="571.3" cy="860.9" r="2.15"/><circle cx="569.4" cy="862.3" r="2.15"/><circle cx="571.7" cy="862.9" r="2.15"/><circle cx="570.0" cy="864.4" r="2.15"/><circle cx="570.1" cy="865.7" r="2.15"/><circle cx="569.4" cy="867.1" r="2.15"/><circle cx="571.6" cy="868.0" r="2.15"/><circle cx="571.1" cy="869.6" r="2.15"/><circle cx="570.8" cy="870.8" r="2.15"/><circle cx="570.7" cy="871.8" r="2.15"/><circle cx="570.5" cy="873.2" r="2.15"/><circle cx="571.1" cy="874.2" r="2.15"/><circle cx="570.6" cy="875.8" r="2.15"/><circle cx="570.5" cy="876.6" r="2.15"/><circle cx="570.7" cy="878.1" r="2.15"/><circle cx="570.4" cy="879.3" r="2.15"/><circle cx="571.6" cy="880.7" r="2.15"/><circle cx="577.1" cy="855.9" r="2.15"/><circle cx="577.9" cy="857.3" r="2.15"/><circle cx="576.6" cy="859.1" r="2.15"/><circle cx="577.2" cy="860.1" r="2.15"/><circle cx="577.4" cy="861.4" r="2.15"/><circle cx="576.0" cy="862.5" r="2.15"/><circle cx="578.2" cy="863.8" r="2.15"/><circle cx="578.2" cy="864.9" r="2.15"/><circle cx="577.4" cy="865.9" r="2.15"/><circle cx="576.8" cy="867.4" r="2.15"/><circle cx="577.1" cy="868.4" r="2.15"/><circle cx="577.4" cy="869.9" r="2.15"/><circle cx="577.8" cy="871.1" r="2.15"/><circle cx="575.2" cy="872.4" r="2.15"/><circle cx="576.7" cy="873.3" r="2.15"/><circle cx="576.1" cy="874.5" r="2.15"/><circle cx="578.5" cy="875.7" r="2.15"/><circle cx="576.6" cy="877.3" r="2.15"/><circle cx="576.1" cy="878.0" r="2.15"/><circle cx="577.2" cy="879.2" r="2.15"/><circle cx="575.8" cy="880.5" r="2.15"/><circle cx="582.9" cy="843.1" r="2.15"/><circle cx="584.1" cy="844.8" r="2.15"/><circle cx="583.6" cy="846.2" r="2.15"/><circle cx="583.8" cy="847.4" r="2.15"/><circle cx="584.2" cy="848.0" r="2.15"/><circle cx="583.0" cy="849.5" r="2.15"/><circle cx="584.5" cy="850.9" r="2.15"/><circle cx="583.7" cy="851.7" r="2.15"/><circle cx="584.6" cy="853.5" r="2.15"/><circle cx="584.0" cy="854.8" r="2.15"/><circle cx="583.9" cy="856.0" r="2.15"/><circle cx="584.3" cy="857.2" r="2.15"/><circle cx="584.4" cy="857.9" r="2.15"/><circle cx="583.9" cy="859.8" r="2.15"/><circle cx="583.4" cy="860.6" r="2.15"/><circle cx="582.8" cy="861.9" r="2.15"/><circle cx="583.9" cy="863.4" r="2.15"/><circle cx="584.2" cy="864.4" r="2.15"/><circle cx="583.5" cy="865.6" r="2.15"/><circle cx="584.8" cy="867.2" r="2.15"/><circle cx="583.2" cy="868.2" r="2.15"/><circle cx="584.1" cy="869.7" r="2.15"/><circle cx="584.4" cy="870.3" r="2.15"/><circle cx="583.9" cy="872.1" r="2.15"/><circle cx="584.1" cy="873.3" r="2.15"/><circle cx="583.8" cy="874.6" r="2.15"/><circle cx="582.9" cy="875.6" r="2.15"/><circle cx="583.9" cy="876.5" r="2.15"/><circle cx="583.7" cy="877.7" r="2.15"/><circle cx="583.3" cy="879.3" r="2.15"/><circle cx="582.8" cy="880.1" r="2.15"/><circle cx="582.8" cy="881.5" r="2.15"/><circle cx="590.6" cy="854.7" r="2.15"/><circle cx="590.1" cy="855.7" r="2.15"/><circle cx="589.5" cy="857.6" r="2.15"/><circle cx="592.0" cy="858.8" r="2.15"/><circle cx="591.0" cy="859.6" r="2.15"/><circle cx="589.1" cy="860.6" r="2.15"/><circle cx="589.9" cy="862.0" r="2.15"/><circle cx="591.2" cy="863.1" r="2.15"/><circle cx="590.7" cy="864.9" r="2.15"/><circle cx="588.8" cy="866.2" r="2.15"/><circle cx="589.7" cy="867.3" r="2.15"/><circle cx="591.8" cy="868.6" r="2.15"/><circle cx="590.9" cy="869.2" r="2.15"/><circle cx="590.6" cy="870.8" r="2.15"/><circle cx="597.2" cy="849.1" r="2.15"/><circle cx="597.8" cy="850.6" r="2.15"/><circle cx="596.9" cy="851.8" r="2.15"/><circle cx="596.9" cy="853.1" r="2.15"/><circle cx="597.4" cy="854.3" r="2.15"/><circle cx="597.8" cy="855.7" r="2.15"/><circle cx="597.4" cy="857.4" r="2.15"/><circle cx="598.9" cy="858.1" r="2.15"/><circle cx="597.0" cy="859.9" r="2.15"/><circle cx="597.9" cy="861.0" r="2.15"/><circle cx="597.6" cy="861.9" r="2.15"/><circle cx="597.7" cy="863.2" r="2.15"/><circle cx="597.5" cy="865.0" r="2.15"/><circle cx="704.3" cy="770.5" r="2.15"/><circle cx="682.5" cy="782.4" r="2.15"/><circle cx="664.5" cy="788.5" r="2.15"/><circle cx="687.4" cy="805.3" r="2.15"/><circle cx="682.2" cy="809.4" r="2.15"/><circle cx="758.5" cy="806.4" r="2.15"/><circle cx="708.4" cy="825.4" r="2.15"/><circle cx="716.5" cy="823.3" r="2.15"/><circle cx="728.3" cy="829.4" r="2.15"/><circle cx="728.3" cy="835.5" r="2.15"/><circle cx="670.3" cy="848.4" r="2.15"/><circle cx="678.2" cy="852.3" r="2.15"/><circle cx="708.4" cy="859.5" r="2.15"/><circle cx="686.3" cy="838.6" r="2.15"/><circle cx="687.4" cy="841.3" r="2.15"/><circle cx="685.2" cy="845.5" r="2.15"/><circle cx="686.5" cy="848.5" r="2.15"/><circle cx="684.7" cy="856.3" r="2.15"/><circle cx="686.9" cy="855.2" r="2.15"/><circle cx="688.8" cy="856.6" r="2.15"/><circle cx="687.4" cy="862.3" r="2.15"/><circle cx="685.2" cy="864.0" r="2.15"/><circle cx="688.8" cy="867.3" r="2.15"/><circle cx="684.7" cy="869.5" r="2.15"/><circle cx="688.8" cy="870.9" r="2.15"/><circle cx="682.8" cy="873.4" r="2.15"/><circle cx="685.8" cy="874.0" r="2.15"/><circle cx="688.5" cy="875.6" r="2.15"/><circle cx="684.1" cy="877.8" r="2.15"/><circle cx="684.1" cy="881.1" r="2.15"/><circle cx="687.4" cy="885.6" r="2.15"/><circle cx="696.3" cy="889.4" r="2.15"/><circle cx="721.5" cy="870.4" r="2.15"/><circle cx="734.4" cy="881.5" r="2.15"/><circle cx="734.4" cy="886.4" r="2.15"/><circle cx="816.6" cy="789.3" r="2.15"/><circle cx="831.8" cy="795.6" r="2.15"/><circle cx="831.8" cy="806.2" r="2.15"/><circle cx="816.6" cy="813.1" r="2.15"/><circle cx="609.4" cy="808.6" r="2.15"/></g>
</g>
<g>
<rect class="sp" x="970" y="560" width="2" height="369"/>
<rect class="sp" x="1338" y="560" width="2" height="369"/>
<rect class="sp" x="970" y="560" width="370" height="2"/>
<rect class="sp" x="970" y="927" width="370" height="2"/>
<rect class="sp" x="987" y="929" width="2" height="6"/>
<rect class="sp" x="964" y="910" width="6" height="2"/>
<text class="k" x="988.2" y="957" text-anchor="middle">0</text>
<text class="k" x="956.9" y="919" text-anchor="end">0</text>
<rect class="sp" x="1054" y="929" width="2" height="6"/>
<rect class="sp" x="964" y="844" width="6" height="2"/>
<text class="k" x="1055.2" y="957" text-anchor="middle">1</text>
<text class="k" x="956.9" y="852" text-anchor="end">1</text>
<rect class="sp" x="1121" y="929" width="2" height="6"/>
<rect class="sp" x="964" y="777" width="6" height="2"/>
<text class="k" x="1121.2" y="957" text-anchor="middle">2</text>
<text class="k" x="956.9" y="785" text-anchor="end">2</text>
<rect class="sp" x="1187" y="929" width="2" height="6"/>
<rect class="sp" x="964" y="710" width="6" height="2"/>
<text class="k" x="1188.2" y="957" text-anchor="middle">3</text>
<text class="k" x="956.9" y="718" text-anchor="end">3</text>
<rect class="sp" x="1254" y="929" width="2" height="6"/>
<rect class="sp" x="964" y="643" width="6" height="2"/>
<text class="k" x="1255.2" y="957" text-anchor="middle">4</text>
<text class="k" x="956.9" y="652" text-anchor="end">4</text>
<rect class="sp" x="1321" y="929" width="2" height="6"/>
<rect class="sp" x="964" y="576" width="6" height="2"/>
<text class="k" x="1322.2" y="957" text-anchor="middle">5</text>
<text class="k" x="956.9" y="585" text-anchor="end">5</text>
<line x1="988.05" y1="911.30" x2="1321.95" y2="577.40" stroke="#000" stroke-width="3.125" stroke-dasharray="3.125 5.156"/>
<text class="t" letter-spacing="0.11" x="996.8" y="598">Rel. bias = -0.284</text>
<text class="t" x="996.8" y="635" xml:space="preserve" style="white-space:pre">SI =  0.754</text>
<text class="t" letter-spacing="0.06" x="996.8" y="671">N = 465</text>
<text class="t" letter-spacing="0.01" x="1191.8" y="892">144h fcst</text>
<text class="t" x="1154.7" y="985" letter-spacing="0.1" text-anchor="middle">Hs,obs (m)</text>
<g class="d"><circle cx="995.4" cy="894.5" r="2.15"/><circle cx="1008.4" cy="864.5" r="2.15"/><circle cx="1008.4" cy="872.5" r="2.15"/><circle cx="1015.4" cy="864.5" r="2.15"/><circle cx="1021.5" cy="847.4" r="2.15"/><circle cx="1021.5" cy="852.3" r="2.15"/><circle cx="1021.5" cy="901.6" r="2.15"/><circle cx="1028.3" cy="848.6" r="2.15"/><circle cx="1028.3" cy="851.3" r="2.15"/><circle cx="1028.3" cy="854.3" r="2.15"/><circle cx="1027.8" cy="885.2" r="2.15"/><circle cx="1030.8" cy="884.7" r="2.15"/><circle cx="1027.3" cy="887.7" r="2.15"/><circle cx="1029.8" cy="889.7" r="2.15"/><circle cx="1029.3" cy="893.7" r="2.15"/><circle cx="1027.3" cy="895.7" r="2.15"/><circle cx="1027.8" cy="898.6" r="2.15"/><circle cx="1029.8" cy="898.6" r="2.15"/><circle cx="1034.5" cy="833.6" r="2.15"/><circle cx="1035.5" cy="843.4" r="2.15"/><circle cx="1036.5" cy="848.6" r="2.15"/><circle cx="1032.3" cy="880.7" r="2.15"/><circle cx="1034.5" cy="888.2" r="2.15"/><circle cx="1032.8" cy="890.7" r="2.15"/><circle cx="1034.5" cy="897.5" r="2.15"/><circle cx="1035.5" cy="904.1" r="2.15"/><circle cx="1041.5" cy="849.3" r="2.15"/><circle cx="1042.8" cy="888.2" r="2.15"/><circle cx="1040.3" cy="891.7" r="2.15"/><circle cx="1042.8" cy="895.7" r="2.15"/><circle cx="1049.4" cy="833.9" r="2.15"/><circle cx="1048.2" cy="862.3" r="2.15"/><circle cx="1048.2" cy="870.8" r="2.15"/><circle cx="1047.7" cy="874.2" r="2.15"/><circle cx="1048.2" cy="877.2" r="2.15"/><circle cx="1050.7" cy="878.7" r="2.15"/><circle cx="1046.2" cy="882.2" r="2.15"/><circle cx="1049.4" cy="885.2" r="2.15"/><circle cx="1049.7" cy="887.2" r="2.15"/><circle cx="1055.4" cy="836.9" r="2.15"/><circle cx="1056.2" cy="844.4" r="2.15"/><circle cx="1055.7" cy="861.8" r="2.15"/><circle cx="1055.7" cy="863.8" r="2.15"/><circle cx="1055.4" cy="867.8" r="2.15"/><circle cx="1056.5" cy="872.6" r="2.15"/><circle cx="1054.4" cy="885.2" r="2.15"/><circle cx="1055.2" cy="887.2" r="2.15"/><circle cx="1055.7" cy="889.7" r="2.15"/><circle cx="1054.4" cy="900.4" r="2.15"/><circle cx="1054.4" cy="906.6" r="2.15"/><circle cx="1060.5" cy="817.5" r="2.15"/><circle cx="1060.5" cy="822.5" r="2.15"/><circle cx="1060.5" cy="832.4" r="2.15"/><circle cx="1060.5" cy="834.9" r="2.15"/><circle cx="1061.4" cy="845.9" r="2.15"/><circle cx="1061.4" cy="853.3" r="2.15"/><circle cx="1061.4" cy="855.3" r="2.15"/><circle cx="1061.4" cy="858.3" r="2.15"/><circle cx="1063.5" cy="868.5" r="2.15"/><circle cx="1069.5" cy="839.6" r="2.15"/><circle cx="1068.5" cy="845.4" r="2.15"/><circle cx="1068.5" cy="849.3" r="2.15"/><circle cx="1070.4" cy="852.3" r="2.15"/><circle cx="1070.4" cy="854.5" r="2.15"/><circle cx="1067.5" cy="874.2" r="2.15"/><circle cx="1067.5" cy="876.7" r="2.15"/><circle cx="1074.6" cy="832.4" r="2.15"/><circle cx="1075.3" cy="835.4" r="2.15"/><circle cx="1075.3" cy="847.4" r="2.15"/><circle cx="1075.3" cy="863.3" r="2.15"/><circle cx="1075.3" cy="874.4" r="2.15"/><circle cx="1077.6" cy="873.9" r="2.15"/><circle cx="1081.6" cy="833.4" r="2.15"/><circle cx="1081.4" cy="837.4" r="2.15"/><circle cx="1080.6" cy="841.4" r="2.15"/><circle cx="1080.6" cy="843.4" r="2.15"/><circle cx="1080.4" cy="854.5" r="2.15"/><circle cx="1080.6" cy="866.3" r="2.15"/><circle cx="1080.6" cy="868.8" r="2.15"/><circle cx="1080.6" cy="873.3" r="2.15"/><circle cx="1081.6" cy="876.5" r="2.15"/><circle cx="1088.6" cy="814.5" r="2.15"/><circle cx="1088.6" cy="811.0" r="2.15"/><circle cx="1087.6" cy="831.4" r="2.15"/><circle cx="1087.6" cy="833.4" r="2.15"/><circle cx="1087.6" cy="867.6" r="2.15"/><circle cx="1096.5" cy="844.4" r="2.15"/><circle cx="1096.5" cy="851.5" r="2.15"/><circle cx="1001.0" cy="882.0" r="2.15"/><circle cx="1001.4" cy="883.5" r="2.15"/><circle cx="1001.7" cy="884.4" r="2.15"/><circle cx="1001.1" cy="886.1" r="2.15"/><circle cx="1000.2" cy="887.4" r="2.15"/><circle cx="1001.1" cy="888.9" r="2.15"/><circle cx="1001.9" cy="889.5" r="2.15"/><circle cx="1001.2" cy="890.7" r="2.15"/><circle cx="1001.2" cy="892.1" r="2.15"/><circle cx="1001.5" cy="893.9" r="2.15"/><circle cx="1001.0" cy="894.5" r="2.15"/><circle cx="1001.4" cy="895.9" r="2.15"/><circle cx="1000.6" cy="897.5" r="2.15"/><circle cx="1002.3" cy="898.9" r="2.15"/><circle cx="1000.4" cy="899.6" r="2.15"/><circle cx="1000.9" cy="901.5" r="2.15"/><circle cx="1001.8" cy="902.4" r="2.15"/><circle cx="1002.5" cy="903.8" r="2.15"/><circle cx="1006.4" cy="875.9" r="2.15"/><circle cx="1007.5" cy="877.6" r="2.15"/><circle cx="1010.2" cy="878.7" r="2.15"/><circle cx="1008.7" cy="880.2" r="2.15"/><circle cx="1007.7" cy="881.4" r="2.15"/><circle cx="1007.6" cy="882.2" r="2.15"/><circle cx="1008.7" cy="883.5" r="2.15"/><circle cx="1007.6" cy="885.4" r="2.15"/><circle cx="1008.2" cy="886.5" r="2.15"/><circle cx="1008.8" cy="887.3" r="2.15"/><circle cx="1008.5" cy="888.6" r="2.15"/><circle cx="1009.0" cy="889.8" r="2.15"/><circle cx="1006.8" cy="891.4" r="2.15"/><circle cx="1008.2" cy="892.6" r="2.15"/><circle cx="1008.6" cy="893.9" r="2.15"/><circle cx="1007.9" cy="895.2" r="2.15"/><circle cx="1008.6" cy="896.4" r="2.15"/><circle cx="1008.5" cy="897.3" r="2.15"/><circle cx="1008.2" cy="898.5" r="2.15"/><circle cx="1007.0" cy="899.9" r="2.15"/><circle cx="1008.0" cy="901.6" r="2.15"/><circle cx="1008.5" cy="903.0" r="2.15"/><circle cx="1009.6" cy="903.6" r="2.15"/><circle cx="1008.6" cy="904.9" r="2.15"/><circle cx="1016.7" cy="869.9" r="2.15"/><circle cx="1015.1" cy="871.4" r="2.15"/><circle cx="1016.5" cy="872.5" r="2.15"/><circle cx="1014.9" cy="873.6" r="2.15"/><circle cx="1015.3" cy="875.0" r="2.15"/><circle cx="1014.9" cy="876.0" r="2.15"/><circle cx="1015.3" cy="877.5" r="2.15"/><circle cx="1014.8" cy="878.7" r="2.15"/><circle cx="1014.9" cy="879.9" r="2.15"/><circle cx="1015.0" cy="880.9" r="2.15"/><circle cx="1015.2" cy="882.2" r="2.15"/><circle cx="1016.0" cy="883.8" r="2.15"/><circle cx="1015.2" cy="885.0" r="2.15"/><circle cx="1015.0" cy="886.5" r="2.15"/><circle cx="1015.0" cy="887.3" r="2.15"/><circle cx="1015.0" cy="888.6" r="2.15"/><circle cx="1014.8" cy="889.9" r="2.15"/><circle cx="1015.9" cy="891.1" r="2.15"/><circle cx="1015.2" cy="892.8" r="2.15"/><circle cx="1015.7" cy="894.0" r="2.15"/><circle cx="1014.7" cy="894.9" r="2.15"/><circle cx="1017.0" cy="896.9" r="2.15"/><circle cx="1015.8" cy="898.0" r="2.15"/><circle cx="1016.6" cy="899.1" r="2.15"/><circle cx="1014.2" cy="900.0" r="2.15"/><circle cx="1015.8" cy="901.3" r="2.15"/><circle cx="1021.6" cy="856.3" r="2.15"/><circle cx="1020.7" cy="857.7" r="2.15"/><circle cx="1020.5" cy="859.2" r="2.15"/><circle cx="1022.6" cy="860.0" r="2.15"/><circle cx="1021.9" cy="861.7" r="2.15"/><circle cx="1019.6" cy="862.3" r="2.15"/><circle cx="1021.9" cy="863.6" r="2.15"/><circle cx="1022.7" cy="865.1" r="2.15"/><circle cx="1021.7" cy="866.4" r="2.15"/><circle cx="1021.2" cy="867.8" r="2.15"/><circle cx="1020.6" cy="868.8" r="2.15"/><circle cx="1021.0" cy="870.4" r="2.15"/><circle cx="1021.8" cy="871.4" r="2.15"/><circle cx="1021.6" cy="872.4" r="2.15"/><circle cx="1021.6" cy="873.9" r="2.15"/><circle cx="1022.9" cy="875.5" r="2.15"/><circle cx="1021.1" cy="876.7" r="2.15"/><circle cx="1020.5" cy="877.3" r="2.15"/><circle cx="1022.8" cy="879.3" r="2.15"/><circle cx="1022.0" cy="880.4" r="2.15"/><circle cx="1020.5" cy="881.0" r="2.15"/><circle cx="1022.2" cy="882.4" r="2.15"/><circle cx="1021.0" cy="884.0" r="2.15"/><circle cx="1020.4" cy="884.8" r="2.15"/><circle cx="1020.4" cy="886.1" r="2.15"/><circle cx="1021.9" cy="887.8" r="2.15"/><circle cx="1021.0" cy="888.9" r="2.15"/><circle cx="1021.5" cy="890.1" r="2.15"/><circle cx="1021.5" cy="891.6" r="2.15"/><circle cx="1021.5" cy="892.6" r="2.15"/><circle cx="1020.1" cy="893.9" r="2.15"/><circle cx="1021.7" cy="895.1" r="2.15"/><circle cx="1021.5" cy="896.0" r="2.15"/><circle cx="1021.7" cy="897.9" r="2.15"/><circle cx="1028.8" cy="858.0" r="2.15"/><circle cx="1027.4" cy="859.4" r="2.15"/><circle cx="1028.9" cy="860.0" r="2.15"/><circle cx="1026.9" cy="861.8" r="2.15"/><circle cx="1028.0" cy="862.4" r="2.15"/><circle cx="1028.6" cy="864.2" r="2.15"/><circle cx="1029.5" cy="865.4" r="2.15"/><circle cx="1028.1" cy="866.7" r="2.15"/><circle cx="1028.0" cy="868.2" r="2.15"/><circle cx="1028.4" cy="868.9" r="2.15"/><circle cx="1027.7" cy="870.0" r="2.15"/><circle cx="1028.6" cy="871.2" r="2.15"/><circle cx="1028.0" cy="872.4" r="2.15"/><circle cx="1029.2" cy="874.0" r="2.15"/><circle cx="1028.9" cy="874.9" r="2.15"/><circle cx="1027.8" cy="876.3" r="2.15"/><circle cx="1028.5" cy="878.0" r="2.15"/><circle cx="1028.1" cy="878.8" r="2.15"/><circle cx="1026.8" cy="880.5" r="2.15"/><circle cx="1028.7" cy="881.7" r="2.15"/><circle cx="1028.1" cy="883.0" r="2.15"/><circle cx="1035.8" cy="853.4" r="2.15"/><circle cx="1036.2" cy="854.7" r="2.15"/><circle cx="1035.6" cy="856.2" r="2.15"/><circle cx="1035.0" cy="857.2" r="2.15"/><circle cx="1035.5" cy="858.3" r="2.15"/><circle cx="1036.4" cy="859.4" r="2.15"/><circle cx="1035.0" cy="860.6" r="2.15"/><circle cx="1035.8" cy="862.0" r="2.15"/><circle cx="1035.5" cy="863.4" r="2.15"/><circle cx="1036.5" cy="864.8" r="2.15"/><circle cx="1034.8" cy="865.6" r="2.15"/><circle cx="1035.7" cy="866.8" r="2.15"/><circle cx="1035.9" cy="868.2" r="2.15"/><circle cx="1035.3" cy="869.6" r="2.15"/><circle cx="1035.8" cy="870.7" r="2.15"/><circle cx="1034.4" cy="871.9" r="2.15"/><circle cx="1034.5" cy="872.9" r="2.15"/><circle cx="1035.4" cy="874.5" r="2.15"/><circle cx="1035.2" cy="875.7" r="2.15"/><circle cx="1035.3" cy="877.2" r="2.15"/><circle cx="1035.5" cy="878.4" r="2.15"/><circle cx="1035.8" cy="879.5" r="2.15"/><circle cx="1035.4" cy="880.7" r="2.15"/><circle cx="1042.0" cy="855.9" r="2.15"/><circle cx="1039.9" cy="857.0" r="2.15"/><circle cx="1041.5" cy="858.2" r="2.15"/><circle cx="1042.4" cy="859.8" r="2.15"/><circle cx="1040.1" cy="860.6" r="2.15"/><circle cx="1041.5" cy="861.7" r="2.15"/><circle cx="1041.0" cy="862.9" r="2.15"/><circle cx="1042.3" cy="864.8" r="2.15"/><circle cx="1041.2" cy="865.8" r="2.15"/><circle cx="1040.6" cy="866.9" r="2.15"/><circle cx="1042.6" cy="868.0" r="2.15"/><circle cx="1042.1" cy="869.3" r="2.15"/><circle cx="1041.1" cy="870.4" r="2.15"/><circle cx="1041.4" cy="872.0" r="2.15"/><circle cx="1041.3" cy="873.1" r="2.15"/><circle cx="1042.0" cy="874.1" r="2.15"/><circle cx="1042.0" cy="875.9" r="2.15"/><circle cx="1041.8" cy="876.4" r="2.15"/><circle cx="1040.7" cy="878.3" r="2.15"/><circle cx="1041.8" cy="879.2" r="2.15"/><circle cx="1040.7" cy="880.5" r="2.15"/><circle cx="1042.9" cy="881.8" r="2.15"/><circle cx="1048.3" cy="848.4" r="2.15"/><circle cx="1048.1" cy="849.4" r="2.15"/><circle cx="1049.8" cy="850.4" r="2.15"/><circle cx="1048.7" cy="851.7" r="2.15"/><circle cx="1049.3" cy="852.9" r="2.15"/><circle cx="1048.8" cy="854.7" r="2.15"/><circle cx="1047.7" cy="855.6" r="2.15"/><circle cx="1049.3" cy="856.9" r="2.15"/><circle cx="1129.2" cy="803.4" r="2.15"/><circle cx="1134.6" cy="803.4" r="2.15"/><circle cx="1115.5" cy="813.4" r="2.15"/><circle cx="1134.6" cy="819.5" r="2.15"/><circle cx="1120.5" cy="848.5" r="2.15"/><circle cx="1122.4" cy="855.5" r="2.15"/><circle cx="1159.4" cy="846.3" r="2.15"/><circle cx="1159.4" cy="858.5" r="2.15"/><circle cx="1173.5" cy="847.4" r="2.15"/><circle cx="1173.5" cy="860.5" r="2.15"/><circle cx="1179.3" cy="843.3" r="2.15"/><circle cx="1179.3" cy="845.5" r="2.15"/><circle cx="1210.3" cy="847.4" r="2.15"/><circle cx="1161.4" cy="881.4" r="2.15"/><circle cx="1185.4" cy="879.5" r="2.15"/><circle cx="1147.3" cy="896.3" r="2.15"/><circle cx="1138.4" cy="835.5" r="2.15"/><circle cx="1136.2" cy="839.7" r="2.15"/><circle cx="1139.0" cy="840.8" r="2.15"/><circle cx="1139.5" cy="843.3" r="2.15"/><circle cx="1137.3" cy="844.7" r="2.15"/><circle cx="1136.0" cy="846.3" r="2.15"/><circle cx="1137.5" cy="850.4" r="2.15"/><circle cx="1137.5" cy="858.5" r="2.15"/><circle cx="1136.2" cy="861.5" r="2.15"/><circle cx="1139.8" cy="864.9" r="2.15"/><circle cx="1136.2" cy="868.4" r="2.15"/><circle cx="1135.1" cy="870.6" r="2.15"/><circle cx="1140.3" cy="871.5" r="2.15"/><circle cx="1139.5" cy="873.6" r="2.15"/><circle cx="1136.8" cy="876.2" r="2.15"/><circle cx="1134.6" cy="877.5" r="2.15"/><circle cx="1139.5" cy="878.4" r="2.15"/><circle cx="1135.3" cy="881.1" r="2.15"/><circle cx="1139.5" cy="883.6" r="2.15"/><circle cx="1135.3" cy="885.6" r="2.15"/><circle cx="1167.3" cy="746.3" r="2.15"/><circle cx="1138.7" cy="785.3" r="2.15"/><circle cx="1167.3" cy="799.3" r="2.15"/><circle cx="1267.6" cy="782.4" r="2.15"/><circle cx="1267.6" cy="807.6" r="2.15"/><circle cx="1282.8" cy="862.7" r="2.15"/><circle cx="1282.8" cy="867.5" r="2.15"/></g>
</g>
</svg></body></html>
